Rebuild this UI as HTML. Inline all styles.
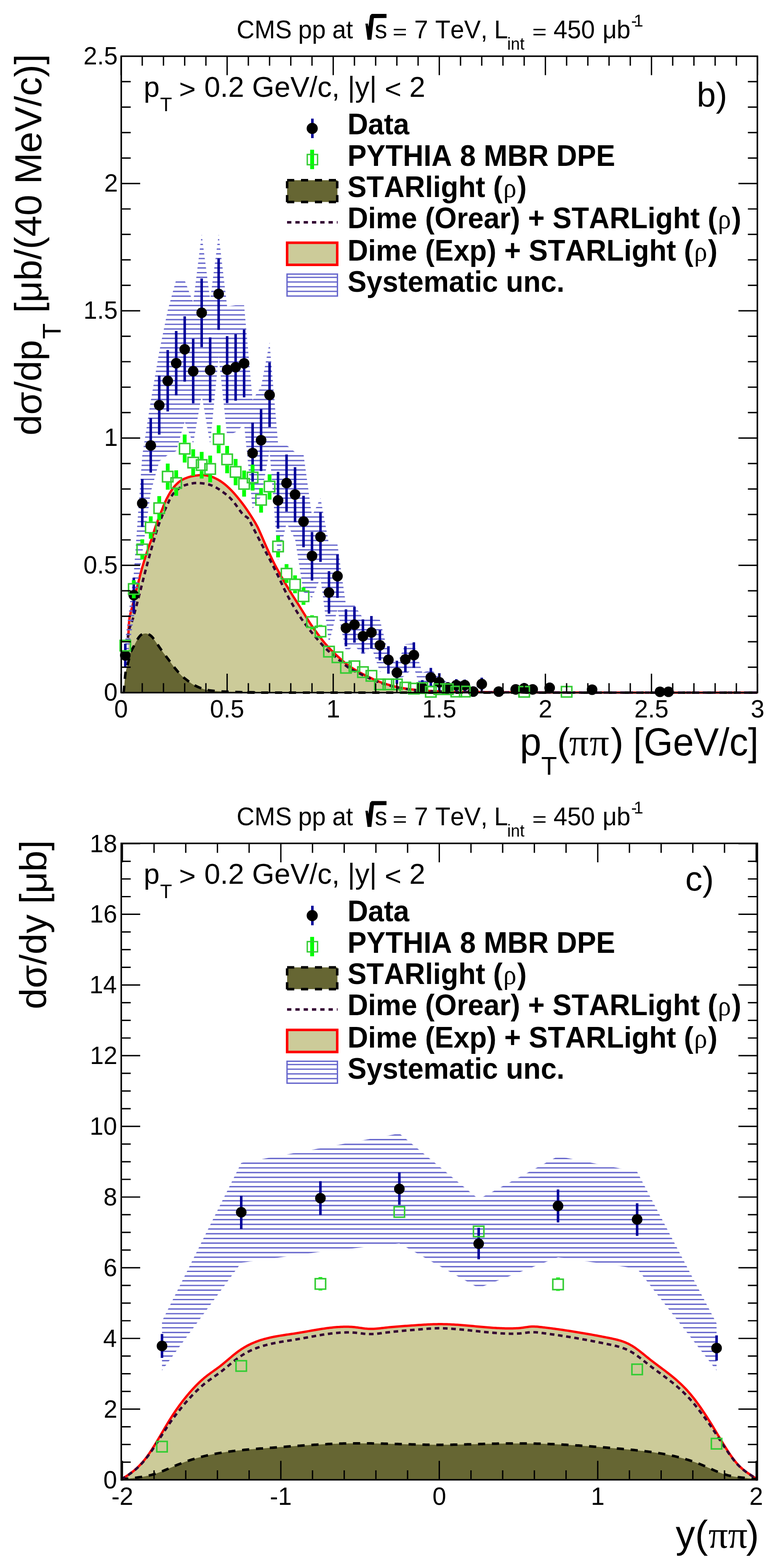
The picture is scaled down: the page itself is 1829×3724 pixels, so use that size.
<!DOCTYPE html>
<html><head><meta charset="utf-8"><title>CMS pp 7 TeV exclusive pi+pi- cross sections</title>
<style>html,body{margin:0;padding:0;background:#fff;}svg{display:block;}
text{font-kerning:none;}</style></head>
<body>
<svg width="1829" height="3724" viewBox="0 0 1829 3724">
<defs>
<clipPath id="c1"><rect x="288" y="133.5" width="1511" height="1514.5"/></clipPath>
<clipPath id="c2"><rect x="288" y="2003" width="1511" height="1514.5"/></clipPath>
</defs>
<rect x="0" y="0" width="1829" height="3724" fill="#fff"/>
<g clip-path="url(#c1)">
<path d="M304.8 1511.7 C305.23 1504.65 305.67 1481.88 307.4 1469.4 C309.13 1456.92 312.73 1447.15 315.2 1436.8 C317.67 1426.45 320 1416.1 322.2 1407.3 C324.4 1398.5 326.47 1391.52 328.4 1384 C330.33 1376.48 331.87 1369.45 333.8 1362.2 C335.73 1354.95 337.93 1347.48 340 1340.5 C342.07 1333.52 344 1327.28 346.2 1320.3 C348.4 1313.32 350.87 1305.32 353.2 1298.6 C355.53 1291.88 358 1286.47 360.2 1280 C362.4 1273.53 364.07 1266.8 366.4 1259.8 C368.73 1252.8 371.6 1245 374.2 1238 C376.8 1231 379.15 1225.05 382 1217.8 C384.85 1210.55 388.2 1201.48 391.3 1194.5 C394.4 1187.52 397.23 1181.85 400.6 1175.9 C403.97 1169.95 407.62 1163.85 411.5 1158.8 C415.38 1153.75 419.5 1149.22 423.9 1145.6 C428.3 1141.98 432.98 1139.43 437.9 1137.1 C442.82 1134.77 447.45 1133.03 453.4 1131.6 C459.35 1130.17 467.5 1128.93 473.6 1128.5 C479.7 1128.07 484.77 1128.25 490 1129 C495.23 1129.75 498.7 1130.27 505 1133 C511.3 1135.73 520.2 1139.97 527.8 1145.4 C535.4 1150.83 542.57 1157.17 550.6 1165.6 C558.63 1174.03 568.43 1186.1 576 1196 C583.57 1205.9 590 1215.67 596 1225 C602 1234.33 605.8 1239.5 612 1252 C618.2 1264.5 626.98 1286.3 633.2 1300 C639.42 1313.7 644.08 1323.77 649.3 1334.2 C654.52 1344.63 659.43 1353.43 664.5 1362.6 C669.57 1371.77 674.63 1380.65 679.7 1389.2 C684.77 1397.75 689.85 1405.83 694.9 1413.9 C699.95 1421.97 704.95 1429.55 710 1437.6 C715.05 1445.65 720.13 1454.15 725.2 1462.2 C730.27 1470.25 735.33 1478.47 740.4 1485.9 C745.47 1493.33 750.53 1500 755.6 1506.8 C760.67 1513.6 765.1 1519.97 770.8 1526.7 C776.5 1533.43 783.48 1540.87 789.8 1547.2 C796.12 1553.53 802.38 1559.1 808.7 1564.7 C815.02 1570.3 820.72 1575.75 827.7 1580.8 C834.68 1585.85 842.57 1590.47 850.6 1595 C858.63 1599.53 867.47 1603.95 875.9 1608 C884.33 1612.05 892.77 1616.05 901.2 1619.3 C909.63 1622.55 918.07 1625.13 926.5 1627.5 C934.93 1629.87 941.68 1631.67 951.8 1633.5 C961.92 1635.33 974.17 1637.17 987.2 1638.5 C1000.23 1639.83 1011.2 1640.7 1030 1641.5 C1048.8 1642.3 1071.67 1642.83 1100 1643.3 C1128.33 1643.77 1150 1644.05 1200 1644.3 C1250 1644.55 1300.17 1644.68 1400 1644.8 C1499.83 1644.92 1732.5 1644.97 1799 1645 L1799 1645 L304.8 1645 Z" fill="#cccb99"/>
<path d="M293.5 1645 C293.62 1644.25 293.53 1647.5 294.2 1640.5 C294.87 1633.5 296.42 1611.97 297.5 1603 C298.58 1594.03 299.35 1592.4 300.7 1586.7 C302.05 1581 304.1 1574.75 305.6 1568.8 C307.1 1562.85 307.93 1556.17 309.7 1551 C311.47 1545.83 314.03 1542.03 316.2 1537.8 C318.37 1533.57 320.8 1529.1 322.7 1525.6 C324.6 1522.1 325.68 1519.63 327.6 1516.8 C329.52 1513.97 332.02 1510.53 334.2 1508.6 C336.38 1506.67 338.53 1505.87 340.7 1505.2 C342.87 1504.53 344.77 1504.2 347.2 1504.6 C349.63 1505 352.85 1506.15 355.3 1507.6 C357.75 1509.05 359.85 1511.07 361.9 1513.3 C363.95 1515.53 365.3 1517.77 367.6 1521 C369.9 1524.23 372.6 1528.25 375.7 1532.7 C378.8 1537.15 381.92 1541.82 386.2 1547.7 C390.48 1553.58 396.35 1561.28 401.4 1568 C406.45 1574.72 411.45 1581.85 416.5 1588 C421.55 1594.15 426.62 1599.98 431.7 1604.9 C436.78 1609.82 441.95 1613.72 447 1617.5 C452.05 1621.28 456.12 1624.48 462 1627.6 C467.88 1630.72 475.97 1634.13 482.3 1636.2 C488.63 1638.27 490.72 1638.9 500 1640 C509.28 1641.1 521.33 1642.08 538 1642.8 C554.67 1643.52 573 1643.93 600 1644.3 C627 1644.67 500.17 1644.88 700 1645 C899.83 1645.12 1615.83 1645 1799 1645 Z" fill="#666633"/>
<path d="M304.8 1511.7 C305.23 1504.65 305.67 1481.88 307.4 1469.4 C309.13 1456.92 312.73 1447.15 315.2 1436.8 C317.67 1426.45 320 1416.1 322.2 1407.3 C324.4 1398.5 326.47 1391.52 328.4 1384 C330.33 1376.48 331.87 1369.45 333.8 1362.2 C335.73 1354.95 337.93 1347.48 340 1340.5 C342.07 1333.52 344 1327.28 346.2 1320.3 C348.4 1313.32 350.87 1305.32 353.2 1298.6 C355.53 1291.88 358 1286.47 360.2 1280 C362.4 1273.53 364.07 1266.8 366.4 1259.8 C368.73 1252.8 371.6 1245 374.2 1238 C376.8 1231 379.15 1225.05 382 1217.8 C384.85 1210.55 388.2 1201.48 391.3 1194.5 C394.4 1187.52 397.23 1181.85 400.6 1175.9 C403.97 1169.95 407.62 1163.85 411.5 1158.8 C415.38 1153.75 419.5 1149.22 423.9 1145.6 C428.3 1141.98 432.98 1139.43 437.9 1137.1 C442.82 1134.77 447.45 1133.03 453.4 1131.6 C459.35 1130.17 467.5 1128.93 473.6 1128.5 C479.7 1128.07 484.77 1128.25 490 1129 C495.23 1129.75 498.7 1130.27 505 1133 C511.3 1135.73 520.2 1139.97 527.8 1145.4 C535.4 1150.83 542.57 1157.17 550.6 1165.6 C558.63 1174.03 568.43 1186.1 576 1196 C583.57 1205.9 590 1215.67 596 1225 C602 1234.33 605.8 1239.5 612 1252 C618.2 1264.5 626.98 1286.3 633.2 1300 C639.42 1313.7 644.08 1323.77 649.3 1334.2 C654.52 1344.63 659.43 1353.43 664.5 1362.6 C669.57 1371.77 674.63 1380.65 679.7 1389.2 C684.77 1397.75 689.85 1405.83 694.9 1413.9 C699.95 1421.97 704.95 1429.55 710 1437.6 C715.05 1445.65 720.13 1454.15 725.2 1462.2 C730.27 1470.25 735.33 1478.47 740.4 1485.9 C745.47 1493.33 750.53 1500 755.6 1506.8 C760.67 1513.6 765.1 1519.97 770.8 1526.7 C776.5 1533.43 783.48 1540.87 789.8 1547.2 C796.12 1553.53 802.38 1559.1 808.7 1564.7 C815.02 1570.3 820.72 1575.75 827.7 1580.8 C834.68 1585.85 842.57 1590.47 850.6 1595 C858.63 1599.53 867.47 1603.95 875.9 1608 C884.33 1612.05 892.77 1616.05 901.2 1619.3 C909.63 1622.55 918.07 1625.13 926.5 1627.5 C934.93 1629.87 941.68 1631.67 951.8 1633.5 C961.92 1635.33 974.17 1637.17 987.2 1638.5 C1000.23 1639.83 1011.2 1640.7 1030 1641.5 C1048.8 1642.3 1071.67 1642.83 1100 1643.3 C1128.33 1643.77 1150 1644.05 1200 1644.3 C1250 1644.55 1300.17 1644.68 1400 1644.8 C1499.83 1644.92 1732.5 1644.97 1799 1645" fill="none" stroke="#ff0000" stroke-width="5.5"/>
<path d="M293.5 1645 C293.62 1644.25 293.53 1647.5 294.2 1640.5 C294.87 1633.5 296.42 1611.97 297.5 1603 C298.58 1594.03 299.35 1592.4 300.7 1586.7 C302.05 1581 304.1 1574.75 305.6 1568.8 C307.1 1562.85 307.93 1556.17 309.7 1551 C311.47 1545.83 314.03 1542.03 316.2 1537.8 C318.37 1533.57 320.8 1529.1 322.7 1525.6 C324.6 1522.1 325.68 1519.63 327.6 1516.8 C329.52 1513.97 332.02 1510.53 334.2 1508.6 C336.38 1506.67 338.53 1505.87 340.7 1505.2 C342.87 1504.53 344.77 1504.2 347.2 1504.6 C349.63 1505 352.85 1506.15 355.3 1507.6 C357.75 1509.05 359.85 1511.07 361.9 1513.3 C363.95 1515.53 365.3 1517.77 367.6 1521 C369.9 1524.23 372.6 1528.25 375.7 1532.7 C378.8 1537.15 381.92 1541.82 386.2 1547.7 C390.48 1553.58 396.35 1561.28 401.4 1568 C406.45 1574.72 411.45 1581.85 416.5 1588 C421.55 1594.15 426.62 1599.98 431.7 1604.9 C436.78 1609.82 441.95 1613.72 447 1617.5 C452.05 1621.28 456.12 1624.48 462 1627.6 C467.88 1630.72 475.97 1634.13 482.3 1636.2 C488.63 1638.27 490.72 1638.9 500 1640 C509.28 1641.1 521.33 1642.08 538 1642.8 C554.67 1643.52 573 1643.93 600 1644.3 C627 1644.67 500.17 1644.88 700 1645 C899.83 1645.12 1615.83 1645 1799 1645" fill="none" stroke="#000" stroke-width="6" stroke-dasharray="17 16"/>
<path d="M303.5 1515 C304.08 1511.5 304.8 1502.12 307 1494 C309.2 1485.88 312.48 1480.75 316.7 1466.3 C320.92 1451.85 327.38 1426.2 332.3 1407.3 C337.22 1388.4 341.03 1372.32 346.2 1352.9 C351.37 1333.48 357.85 1309.43 363.3 1290.8 C368.75 1272.17 373.47 1255.85 378.9 1241.1 C384.33 1226.35 390.73 1213.35 395.9 1202.3 C401.07 1191.25 404.47 1182.23 409.9 1174.8 C415.33 1167.37 422.28 1161.83 428.5 1157.7 C434.72 1153.57 440.2 1151.75 447.2 1150 C454.2 1148.25 461.7 1146.87 470.5 1147.2 C479.3 1147.53 490.87 1148.95 500 1152 C509.13 1155.05 516.87 1159.67 525.3 1165.5 C533.73 1171.33 542.15 1177.83 550.6 1187 C559.05 1196.17 569.48 1213.08 576 1220.5 C582.52 1227.92 585.5 1226 589.7 1231.5 C593.9 1237 594.73 1241.13 601.2 1253.5 C607.67 1265.87 620.95 1291.32 628.5 1305.7 C636.05 1320.08 640.82 1328.73 646.5 1339.8 C652.18 1350.87 657.07 1360.7 662.6 1372.1 C668.13 1383.5 673.68 1396.5 679.7 1408.2 C685.72 1419.9 692.07 1431.23 698.7 1442.3 C705.33 1453.37 711.92 1463.85 719.5 1474.6 C727.08 1485.35 735.02 1495.73 744.2 1506.8 C753.38 1517.87 765.12 1531.5 774.6 1541 C784.08 1550.5 792.25 1556.38 801.1 1563.8 C809.95 1571.22 819.45 1579.8 827.7 1585.5 C835.95 1591.2 842.57 1593.92 850.6 1598 C858.63 1602.08 867.47 1606.2 875.9 1610 C884.33 1613.8 892.77 1617.72 901.2 1620.8 C909.63 1623.88 918.07 1626.27 926.5 1628.5 C934.93 1630.73 941.68 1632.45 951.8 1634.2 C961.92 1635.95 974.17 1637.73 987.2 1639 C1000.23 1640.27 1011.2 1641.05 1030 1641.8 C1048.8 1642.55 1071.67 1643.07 1100 1643.5 C1128.33 1643.93 1150 1644.18 1200 1644.4 C1250 1644.62 1300.17 1644.7 1400 1644.8 C1499.83 1644.9 1732.5 1644.97 1799 1645" fill="none" stroke="#330033" stroke-width="5.8" stroke-dasharray="11 8.6"/>
<clipPath id="b1"><path d="M297.6 1520 L317.76 1362 L337.92 1082 L358.08 952.6 L378.24 835.3 L398.4 736.9 L418.56 664 L438.72 666 L458.88 718 L479.04 556.6 L499.2 712 L519.36 556.6 L539.52 728 L559.68 725 L579.84 725 L600 950 L620.16 918 L640.32 812.9 L660.48 1053 L680.64 1057 L700.8 1074 L720.96 1079 L741.12 1226 L761.28 1182.7 L781.44 1292 L801.6 1293 L821.76 1437 L841.92 1437 L862.08 1468 L882.24 1470 L902.4 1472 L922.56 1552 L942.72 1578 L962.88 1530 L983.04 1528 L1003.2 1598 L1023.36 1590 L1043.52 1607 L1063.68 1622 L1083.84 1618 L1104 1618 L1124.16 1640 L1144.32 1615 L1144.32 1634.88 L1124.16 1645.12 L1104 1637.06 L1083.84 1637.06 L1063.68 1644.55 L1043.52 1634.26 L1023.36 1628.95 L1003.2 1650 L983.04 1584.99 L962.88 1603.8 L942.72 1618.18 L922.56 1583.16 L902.4 1596.03 L882.24 1536.01 L862.08 1556.15 L841.92 1532.74 L821.76 1548.72 L801.6 1447.37 L781.44 1528.37 L761.28 1371.91 L741.12 1419.52 L720.96 1405.97 L700.8 1280.03 L680.64 1242.32 L660.48 1330.57 L640.32 1069.36 L620.16 1179.38 L600 1208.3 L579.84 1007.9 L559.68 1026.35 L539.52 1035.5 L519.36 846.68 L499.2 1054.35 L479.04 938.31 L458.88 1053.59 L438.72 1001.38 L418.56 1071.13 L398.4 1080.69 L378.24 1095.65 L358.08 1169.08 L337.92 1314.67 L317.76 1467.78 L297.6 1594.83 Z"/></clipPath>
<path clip-path="url(#b1)" d="M292.6 535.88 H1149.32 M292.6 547.04 H1149.32 M292.6 558.2 H1149.32 M292.6 569.36 H1149.32 M292.6 580.52 H1149.32 M292.6 591.68 H1149.32 M292.6 602.84 H1149.32 M292.6 614 H1149.32 M292.6 625.16 H1149.32 M292.6 636.32 H1149.32 M292.6 647.48 H1149.32 M292.6 658.64 H1149.32 M292.6 669.8 H1149.32 M292.6 680.96 H1149.32 M292.6 692.12 H1149.32 M292.6 703.28 H1149.32 M292.6 714.44 H1149.32 M292.6 725.6 H1149.32 M292.6 736.76 H1149.32 M292.6 747.92 H1149.32 M292.6 759.08 H1149.32 M292.6 770.24 H1149.32 M292.6 781.4 H1149.32 M292.6 792.56 H1149.32 M292.6 803.72 H1149.32 M292.6 814.88 H1149.32 M292.6 826.04 H1149.32 M292.6 837.2 H1149.32 M292.6 848.36 H1149.32 M292.6 859.52 H1149.32 M292.6 870.68 H1149.32 M292.6 881.84 H1149.32 M292.6 893 H1149.32 M292.6 904.16 H1149.32 M292.6 915.32 H1149.32 M292.6 926.48 H1149.32 M292.6 937.64 H1149.32 M292.6 948.8 H1149.32 M292.6 959.96 H1149.32 M292.6 971.12 H1149.32 M292.6 982.28 H1149.32 M292.6 993.44 H1149.32 M292.6 1004.6 H1149.32 M292.6 1015.76 H1149.32 M292.6 1026.92 H1149.32 M292.6 1038.08 H1149.32 M292.6 1049.24 H1149.32 M292.6 1060.4 H1149.32 M292.6 1071.56 H1149.32 M292.6 1082.72 H1149.32 M292.6 1093.88 H1149.32 M292.6 1105.04 H1149.32 M292.6 1116.2 H1149.32 M292.6 1127.36 H1149.32 M292.6 1138.52 H1149.32 M292.6 1149.68 H1149.32 M292.6 1160.84 H1149.32 M292.6 1172 H1149.32 M292.6 1183.16 H1149.32 M292.6 1194.32 H1149.32 M292.6 1205.48 H1149.32 M292.6 1216.64 H1149.32 M292.6 1227.8 H1149.32 M292.6 1238.96 H1149.32 M292.6 1250.12 H1149.32 M292.6 1261.28 H1149.32 M292.6 1272.44 H1149.32 M292.6 1283.6 H1149.32 M292.6 1294.76 H1149.32 M292.6 1305.92 H1149.32 M292.6 1317.08 H1149.32 M292.6 1328.24 H1149.32 M292.6 1339.4 H1149.32 M292.6 1350.56 H1149.32 M292.6 1361.72 H1149.32 M292.6 1372.88 H1149.32 M292.6 1384.04 H1149.32 M292.6 1395.2 H1149.32 M292.6 1406.36 H1149.32 M292.6 1417.52 H1149.32 M292.6 1428.68 H1149.32 M292.6 1439.84 H1149.32 M292.6 1451 H1149.32 M292.6 1462.16 H1149.32 M292.6 1473.32 H1149.32 M292.6 1484.48 H1149.32 M292.6 1495.64 H1149.32 M292.6 1506.8 H1149.32 M292.6 1517.96 H1149.32 M292.6 1529.12 H1149.32 M292.6 1540.28 H1149.32 M292.6 1551.44 H1149.32 M292.6 1562.6 H1149.32 M292.6 1573.76 H1149.32 M292.6 1584.92 H1149.32 M292.6 1596.08 H1149.32 M292.6 1607.24 H1149.32 M292.6 1618.4 H1149.32 M292.6 1629.56 H1149.32 M292.6 1640.72 H1149.32 M292.6 1651.88 H1149.32 M292.6 1663.04 H1149.32" stroke="#6666cc" stroke-width="3.2" fill="none"/>
</g>
<path d="M297.6 1528.7 V1583 M317.76 1371.9 V1456.6 M337.92 1137.8 V1251.6 M358.08 993 V1122.6 M378.24 892.2 V1032.2 M398.4 831.3 V977.3 M418.56 786 V939.1 M438.72 751.2 V906.5 M458.88 804.4 V957.8 M479.04 661.4 V824.5 M499.2 801.3 V955.8 M519.36 613.4 V783.4 M539.52 798.3 V957.2 M559.68 793.6 V951.7 M579.84 782.5 V943.8 M600 1003.7 V1144.1 M620.16 971.6 V1118.8 M640.32 861 V1014.3 M660.48 1120.6 V1255.4 M680.64 1079.6 V1215 M700.8 1109.5 V1240.2 M720.96 1177.5 V1299.7 M741.12 1263.4 V1378.8 M761.28 1216.4 V1334.5 M781.44 1356.6 V1457.5 M801.6 1316.7 V1420 M821.76 1447.3 V1535 M841.92 1441.2 V1526.2 M862.08 1471 V1550.3 M882.24 1463 V1541 M902.4 1496.4 V1568.5 M922.56 1534.8 V1600 M942.72 1569.2 V1624 M962.88 1534.8 V1596.3 M983.04 1525.5 V1586.2 M1003.2 1615.3 V1645 M1023.36 1586.2 V1630.4 M1043.52 1598.8 V1640 M1063.68 1620 V1645 M1083.84 1613 V1641 M1104 1614 V1641 M1124.16 1630 V1645 M1144.32 1609.6 V1640 M1184.64 1632 V1645 M1224.96 1627 V1645 M1245.12 1622 V1645 M1265.28 1627 V1645 M1305.6 1621 V1645 M1406.4 1628 V1645 M1567.68 1635 V1645 M1587.84 1635 V1645" stroke="#000099" stroke-width="6" fill="none"/>
<circle cx="297.6" cy="1556.5" r="12.6" fill="#000"/>
<circle cx="317.76" cy="1413.6" r="12.6" fill="#000"/>
<circle cx="337.92" cy="1195.5" r="12.6" fill="#000"/>
<circle cx="358.08" cy="1058.2" r="12.6" fill="#000"/>
<circle cx="378.24" cy="962.3" r="12.6" fill="#000"/>
<circle cx="398.4" cy="904.6" r="12.6" fill="#000"/>
<circle cx="418.56" cy="862.6" r="12.6" fill="#000"/>
<circle cx="438.72" cy="829.6" r="12.6" fill="#000"/>
<circle cx="458.88" cy="881.7" r="12.6" fill="#000"/>
<circle cx="479.04" cy="742.8" r="12.6" fill="#000"/>
<circle cx="499.2" cy="879" r="12.6" fill="#000"/>
<circle cx="519.36" cy="698.1" r="12.6" fill="#000"/>
<circle cx="539.52" cy="878" r="12.6" fill="#000"/>
<circle cx="559.68" cy="872" r="12.6" fill="#000"/>
<circle cx="579.84" cy="863" r="12.6" fill="#000"/>
<circle cx="600" cy="1076" r="12.6" fill="#000"/>
<circle cx="620.16" cy="1045.5" r="12.6" fill="#000"/>
<circle cx="640.32" cy="938" r="12.6" fill="#000"/>
<circle cx="660.48" cy="1188.4" r="12.6" fill="#000"/>
<circle cx="680.64" cy="1147.4" r="12.6" fill="#000"/>
<circle cx="700.8" cy="1174.5" r="12.6" fill="#000"/>
<circle cx="720.96" cy="1238.5" r="12.6" fill="#000"/>
<circle cx="741.12" cy="1320.4" r="12.6" fill="#000"/>
<circle cx="761.28" cy="1275" r="12.6" fill="#000"/>
<circle cx="781.44" cy="1407.3" r="12.6" fill="#000"/>
<circle cx="801.6" cy="1368.3" r="12.6" fill="#000"/>
<circle cx="821.76" cy="1491.5" r="12.6" fill="#000"/>
<circle cx="841.92" cy="1483.7" r="12.6" fill="#000"/>
<circle cx="862.08" cy="1511" r="12.6" fill="#000"/>
<circle cx="882.24" cy="1502.2" r="12.6" fill="#000"/>
<circle cx="902.4" cy="1532.5" r="12.6" fill="#000"/>
<circle cx="922.56" cy="1567.2" r="12.6" fill="#000"/>
<circle cx="942.72" cy="1597.6" r="12.6" fill="#000"/>
<circle cx="962.88" cy="1566" r="12.6" fill="#000"/>
<circle cx="983.04" cy="1555.8" r="12.6" fill="#000"/>
<circle cx="1003.2" cy="1633" r="12.6" fill="#000"/>
<circle cx="1023.36" cy="1609" r="12.6" fill="#000"/>
<circle cx="1043.52" cy="1620.3" r="12.6" fill="#000"/>
<circle cx="1063.68" cy="1633" r="12.6" fill="#000"/>
<circle cx="1083.84" cy="1627.3" r="12.6" fill="#000"/>
<circle cx="1104" cy="1627.3" r="12.6" fill="#000"/>
<circle cx="1124.16" cy="1642.5" r="12.6" fill="#000"/>
<circle cx="1144.32" cy="1624.7" r="12.6" fill="#000"/>
<circle cx="1184.64" cy="1642.5" r="12.6" fill="#000"/>
<circle cx="1224.96" cy="1637.4" r="12.6" fill="#000"/>
<circle cx="1245.12" cy="1634.9" r="12.6" fill="#000"/>
<circle cx="1265.28" cy="1637.4" r="12.6" fill="#000"/>
<circle cx="1305.6" cy="1633.6" r="12.6" fill="#000"/>
<circle cx="1406.4" cy="1638" r="12.6" fill="#000"/>
<circle cx="1567.68" cy="1643" r="12.6" fill="#000"/>
<circle cx="1587.84" cy="1643" r="12.6" fill="#000"/>
<path d="M317.76 1378 V1384.7 M317.76 1413.1 V1421 M337.92 1280.7 V1290.6 M337.92 1319 V1328.8 M358.08 1226.3 V1238.7 M358.08 1267.1 V1279.5 M378.24 1178.3 V1192.7 M378.24 1221.1 V1235.2 M398.4 1101 V1117.8 M398.4 1146.2 V1163 M418.56 1117 V1133 M418.56 1161.4 V1177.5 M438.72 1032 V1051.5 M438.72 1079.9 V1098.6 M458.88 1067 V1084.4 M458.88 1112.8 V1130 M479.04 1073.3 V1090.2 M479.04 1118.6 V1136.5 M499.2 1082 V1099.6 M499.2 1128 V1145.4 M519.36 1010 V1028.8 M519.36 1057.2 V1076.6 M539.52 1058.9 V1076.8 M539.52 1105.2 V1123.9 M559.68 1090 V1106.6 M559.68 1135 V1152.5 M579.84 1117.6 V1135 M579.84 1163.4 V1179.5 M600 1103.6 V1119.8 M600 1148.2 V1165.1 M620.16 1159.3 V1172.9 M620.16 1201.3 V1217.5 M640.32 1126.4 V1141.3 M640.32 1169.7 V1186.6 M660.48 1271.9 V1283.7 M660.48 1312.1 V1323.8 M680.64 1339.8 V1348.4 M680.64 1376.8 V1384.4 M700.8 1366.4 V1374 M700.8 1402.4 V1409.1 M720.96 1394.9 V1401.9 M720.96 1430.3 V1436.6 M741.12 1461.3 V1463.2 M741.12 1491.6 V1494.5 M761.28 1484 V1485.6 M761.28 1514 V1515.4" stroke="#00ff00" stroke-width="9" fill="none"/>
<rect x="285.2" y="1520.9" width="24.8" height="24.8" fill="none" stroke="#33cc33" stroke-width="3.6"/>
<rect x="305.36" y="1386.5" width="24.8" height="24.8" fill="none" stroke="#33cc33" stroke-width="3.6"/>
<rect x="325.52" y="1292.4" width="24.8" height="24.8" fill="none" stroke="#33cc33" stroke-width="3.6"/>
<rect x="345.68" y="1240.5" width="24.8" height="24.8" fill="none" stroke="#33cc33" stroke-width="3.6"/>
<rect x="365.84" y="1194.5" width="24.8" height="24.8" fill="none" stroke="#33cc33" stroke-width="3.6"/>
<rect x="386" y="1119.6" width="24.8" height="24.8" fill="none" stroke="#33cc33" stroke-width="3.6"/>
<rect x="406.16" y="1134.8" width="24.8" height="24.8" fill="none" stroke="#33cc33" stroke-width="3.6"/>
<rect x="426.32" y="1053.3" width="24.8" height="24.8" fill="none" stroke="#33cc33" stroke-width="3.6"/>
<rect x="446.48" y="1086.2" width="24.8" height="24.8" fill="none" stroke="#33cc33" stroke-width="3.6"/>
<rect x="466.64" y="1092" width="24.8" height="24.8" fill="none" stroke="#33cc33" stroke-width="3.6"/>
<rect x="486.8" y="1101.4" width="24.8" height="24.8" fill="none" stroke="#33cc33" stroke-width="3.6"/>
<rect x="506.96" y="1030.6" width="24.8" height="24.8" fill="none" stroke="#33cc33" stroke-width="3.6"/>
<rect x="527.12" y="1078.6" width="24.8" height="24.8" fill="none" stroke="#33cc33" stroke-width="3.6"/>
<rect x="547.28" y="1108.4" width="24.8" height="24.8" fill="none" stroke="#33cc33" stroke-width="3.6"/>
<rect x="567.44" y="1136.8" width="24.8" height="24.8" fill="none" stroke="#33cc33" stroke-width="3.6"/>
<rect x="587.6" y="1121.6" width="24.8" height="24.8" fill="none" stroke="#33cc33" stroke-width="3.6"/>
<rect x="607.76" y="1174.7" width="24.8" height="24.8" fill="none" stroke="#33cc33" stroke-width="3.6"/>
<rect x="627.92" y="1143.1" width="24.8" height="24.8" fill="none" stroke="#33cc33" stroke-width="3.6"/>
<rect x="648.08" y="1285.5" width="24.8" height="24.8" fill="none" stroke="#33cc33" stroke-width="3.6"/>
<rect x="668.24" y="1350.2" width="24.8" height="24.8" fill="none" stroke="#33cc33" stroke-width="3.6"/>
<rect x="688.4" y="1375.8" width="24.8" height="24.8" fill="none" stroke="#33cc33" stroke-width="3.6"/>
<rect x="708.56" y="1403.7" width="24.8" height="24.8" fill="none" stroke="#33cc33" stroke-width="3.6"/>
<rect x="728.72" y="1465" width="24.8" height="24.8" fill="none" stroke="#33cc33" stroke-width="3.6"/>
<rect x="748.88" y="1487.4" width="24.8" height="24.8" fill="none" stroke="#33cc33" stroke-width="3.6"/>
<rect x="769.04" y="1535.2" width="24.8" height="24.8" fill="none" stroke="#33cc33" stroke-width="3.6"/>
<rect x="789.2" y="1548.6" width="24.8" height="24.8" fill="none" stroke="#33cc33" stroke-width="3.6"/>
<rect x="809.36" y="1573.6" width="24.8" height="24.8" fill="none" stroke="#33cc33" stroke-width="3.6"/>
<rect x="829.52" y="1570" width="24.8" height="24.8" fill="none" stroke="#33cc33" stroke-width="3.6"/>
<rect x="849.68" y="1583.9" width="24.8" height="24.8" fill="none" stroke="#33cc33" stroke-width="3.6"/>
<rect x="869.84" y="1592.7" width="24.8" height="24.8" fill="none" stroke="#33cc33" stroke-width="3.6"/>
<rect x="890" y="1613" width="24.8" height="24.8" fill="none" stroke="#33cc33" stroke-width="3.6"/>
<rect x="910.16" y="1613" width="24.8" height="24.8" fill="none" stroke="#33cc33" stroke-width="3.6"/>
<rect x="930.32" y="1613" width="24.8" height="24.8" fill="none" stroke="#33cc33" stroke-width="3.6"/>
<rect x="950.48" y="1620.6" width="24.8" height="24.8" fill="none" stroke="#33cc33" stroke-width="3.6"/>
<rect x="970.64" y="1623.1" width="24.8" height="24.8" fill="none" stroke="#33cc33" stroke-width="3.6"/>
<rect x="990.8" y="1621.8" width="24.8" height="24.8" fill="none" stroke="#33cc33" stroke-width="3.6"/>
<rect x="1010.96" y="1630.6" width="24.8" height="24.8" fill="none" stroke="#33cc33" stroke-width="3.6"/>
<rect x="1031.12" y="1624.4" width="24.8" height="24.8" fill="none" stroke="#33cc33" stroke-width="3.6"/>
<rect x="1051.28" y="1624.4" width="24.8" height="24.8" fill="none" stroke="#33cc33" stroke-width="3.6"/>
<rect x="1071.44" y="1630.1" width="24.8" height="24.8" fill="none" stroke="#33cc33" stroke-width="3.6"/>
<rect x="1091.6" y="1630.1" width="24.8" height="24.8" fill="none" stroke="#33cc33" stroke-width="3.6"/>
<rect x="1232.72" y="1630.6" width="24.8" height="24.8" fill="none" stroke="#33cc33" stroke-width="3.6"/>
<rect x="1333.52" y="1630.6" width="24.8" height="24.8" fill="none" stroke="#33cc33" stroke-width="3.6"/>
<path d="M287.5 1645 V1600 M287.5 133.5 V178.5 M539.5 1645 V1600 M539.5 133.5 V178.5 M791.5 1645 V1600 M791.5 133.5 V178.5 M1043.5 1645 V1600 M1043.5 133.5 V178.5 M1295.5 1645 V1600 M1295.5 133.5 V178.5 M1547.5 1645 V1600 M1547.5 133.5 V178.5 M1799.5 1645 V1600 M1799.5 133.5 V178.5 M337.9 1645 V1622.5 M337.9 133.5 V156 M388.3 1645 V1622.5 M388.3 133.5 V156 M438.7 1645 V1622.5 M438.7 133.5 V156 M489.1 1645 V1622.5 M489.1 133.5 V156 M589.9 1645 V1622.5 M589.9 133.5 V156 M640.3 1645 V1622.5 M640.3 133.5 V156 M690.7 1645 V1622.5 M690.7 133.5 V156 M741.1 1645 V1622.5 M741.1 133.5 V156 M841.9 1645 V1622.5 M841.9 133.5 V156 M892.3 1645 V1622.5 M892.3 133.5 V156 M942.7 1645 V1622.5 M942.7 133.5 V156 M993.1 1645 V1622.5 M993.1 133.5 V156 M1093.9 1645 V1622.5 M1093.9 133.5 V156 M1144.3 1645 V1622.5 M1144.3 133.5 V156 M1194.7 1645 V1622.5 M1194.7 133.5 V156 M1245.1 1645 V1622.5 M1245.1 133.5 V156 M1345.9 1645 V1622.5 M1345.9 133.5 V156 M1396.3 1645 V1622.5 M1396.3 133.5 V156 M1446.7 1645 V1622.5 M1446.7 133.5 V156 M1497.1 1645 V1622.5 M1497.1 133.5 V156 M1597.9 1645 V1622.5 M1597.9 133.5 V156 M1648.3 1645 V1622.5 M1648.3 133.5 V156 M1698.7 1645 V1622.5 M1698.7 133.5 V156 M1749.1 1645 V1622.5 M1749.1 133.5 V156 M288 1645 H333 M1799 1645 H1754 M288 1342.7 H333 M1799 1342.7 H1754 M288 1040.4 H333 M1799 1040.4 H1754 M288 738.1 H333 M1799 738.1 H1754 M288 435.8 H333 M1799 435.8 H1754 M288 133.5 H333 M1799 133.5 H1754 M288 1584.54 H310.5 M1799 1584.54 H1776.5 M288 1524.08 H310.5 M1799 1524.08 H1776.5 M288 1463.62 H310.5 M1799 1463.62 H1776.5 M288 1403.16 H310.5 M1799 1403.16 H1776.5 M288 1282.24 H310.5 M1799 1282.24 H1776.5 M288 1221.78 H310.5 M1799 1221.78 H1776.5 M288 1161.32 H310.5 M1799 1161.32 H1776.5 M288 1100.86 H310.5 M1799 1100.86 H1776.5 M288 979.94 H310.5 M1799 979.94 H1776.5 M288 919.48 H310.5 M1799 919.48 H1776.5 M288 859.02 H310.5 M1799 859.02 H1776.5 M288 798.56 H310.5 M1799 798.56 H1776.5 M288 677.64 H310.5 M1799 677.64 H1776.5 M288 617.18 H310.5 M1799 617.18 H1776.5 M288 556.72 H310.5 M1799 556.72 H1776.5 M288 496.26 H310.5 M1799 496.26 H1776.5 M288 375.34 H310.5 M1799 375.34 H1776.5 M288 314.88 H310.5 M1799 314.88 H1776.5 M288 254.42 H310.5 M1799 254.42 H1776.5 M288 193.96 H310.5 M1799 193.96 H1776.5" stroke="#000" stroke-width="3.2" fill="none"/>
<rect x="288" y="133.5" width="1511" height="1511.5" stroke="#000" stroke-width="3.6" fill="none"/>
<text x="246.75" y="1664" style="font-family:'Liberation Sans', Arial, Helvetica, sans-serif;font-size:58.5px;font-weight:400" fill="#000">0</text>
<text x="198.13" y="1361.7" style="font-family:'Liberation Sans', Arial, Helvetica, sans-serif;font-size:58.5px;font-weight:400" fill="#000">0.5</text>
<text x="247.32" y="1059.4" style="font-family:'Liberation Sans', Arial, Helvetica, sans-serif;font-size:58.5px;font-weight:400" fill="#000">1</text>
<text x="198.13" y="757.1" style="font-family:'Liberation Sans', Arial, Helvetica, sans-serif;font-size:58.5px;font-weight:400" fill="#000">1.5</text>
<text x="247.41" y="454.8" style="font-family:'Liberation Sans', Arial, Helvetica, sans-serif;font-size:58.5px;font-weight:400" fill="#000">2</text>
<text x="198.13" y="152.5" style="font-family:'Liberation Sans', Arial, Helvetica, sans-serif;font-size:58.5px;font-weight:400" fill="#000">2.5</text>
<text x="271.23" y="1704" style="font-family:'Liberation Sans', Arial, Helvetica, sans-serif;font-size:58.5px;font-weight:400" fill="#000">0</text>
<text x="498.84" y="1704" style="font-family:'Liberation Sans', Arial, Helvetica, sans-serif;font-size:58.5px;font-weight:400" fill="#000">0.5</text>
<text x="775.23" y="1704" style="font-family:'Liberation Sans', Arial, Helvetica, sans-serif;font-size:58.5px;font-weight:400" fill="#000">1</text>
<text x="1002.84" y="1704" style="font-family:'Liberation Sans', Arial, Helvetica, sans-serif;font-size:58.5px;font-weight:400" fill="#000">1.5</text>
<text x="1279.23" y="1704" style="font-family:'Liberation Sans', Arial, Helvetica, sans-serif;font-size:58.5px;font-weight:400" fill="#000">2</text>
<text x="1506.84" y="1704" style="font-family:'Liberation Sans', Arial, Helvetica, sans-serif;font-size:58.5px;font-weight:400" fill="#000">2.5</text>
<text x="1783.23" y="1704" style="font-family:'Liberation Sans', Arial, Helvetica, sans-serif;font-size:58.5px;font-weight:400" fill="#000">3</text>
<text transform="translate(561.9 90.7) scale(1 1.03)" style="font-family:'Liberation Sans', Arial, Helvetica, sans-serif;font-size:59px;font-weight:400" fill="#000">CMS</text>
<text transform="translate(708.2 90.7) scale(1 1.03)" style="font-family:'Liberation Sans', Arial, Helvetica, sans-serif;font-size:59px;font-weight:400" fill="#000">pp</text>
<text transform="translate(789.13 90.7) scale(1 1.03)" style="font-family:'Liberation Sans', Arial, Helvetica, sans-serif;font-size:59px;font-weight:400" fill="#000">at</text>
<path d="M867.9 56.1 L873.8 56.1 L875 63.7 L879 36.9 L882.9 32.9 L918.1 32.9 L918.1 42.8 L888.1 43 L882.1 94.6 L873 94.6 Z" fill="#000"/>
<text transform="translate(890.36 90.7) scale(1 1.03)" style="font-family:'Liberation Sans', Arial, Helvetica, sans-serif;font-size:59px;font-weight:400" fill="#000">s</text>
<text transform="translate(932.52 92.13) scale(1 0.83)" style="font-family:'Liberation Sans', Arial, Helvetica, sans-serif;font-size:59px;font-weight:400" fill="#000">=</text>
<text transform="translate(984.08 90.7) scale(1 1.03)" style="font-family:'Liberation Sans', Arial, Helvetica, sans-serif;font-size:59px;font-weight:400" fill="#000">7</text>
<text transform="translate(1033.67 90.7) scale(1 1.03)" style="font-family:'Liberation Sans', Arial, Helvetica, sans-serif;font-size:59px;font-weight:400" fill="#000">TeV,</text>
<text transform="translate(1173.66 90.7) scale(1 1.03)" style="font-family:'Liberation Sans', Arial, Helvetica, sans-serif;font-size:59px;font-weight:400" fill="#000">L</text>
<text transform="translate(1204.69 117.6) scale(1 1.02)" style="font-family:'Liberation Sans', Arial, Helvetica, sans-serif;font-size:39px;font-weight:400" fill="#000">int</text>
<text transform="translate(1264.22 92.13) scale(1 0.83)" style="font-family:'Liberation Sans', Arial, Helvetica, sans-serif;font-size:59px;font-weight:400" fill="#000">=</text>
<text transform="translate(1314.65 90.7) scale(1 1.03)" style="font-family:'Liberation Sans', Arial, Helvetica, sans-serif;font-size:59px;font-weight:400" fill="#000">450</text>
<text transform="translate(1431.22 90.7) scale(1 1.03)" style="font-family:'Liberation Sans', Arial, Helvetica, sans-serif;font-size:59px;font-weight:400" fill="#000">μ</text>
<text transform="translate(1464.66 90.7) scale(1 1.03)" style="font-family:'Liberation Sans', Arial, Helvetica, sans-serif;font-size:59px;font-weight:400" fill="#000">b</text>
<text x="1499.2" y="62.7" style="font-family:'Liberation Sans', Arial, Helvetica, sans-serif;font-size:40.4px;font-weight:400" fill="#000">-</text>
<text x="1505.6" y="62.7" style="font-family:'Liberation Sans', Arial, Helvetica, sans-serif;font-size:40.4px;font-weight:400" fill="#000">1</text>
<text x="341.21" y="229.8" style="font-family:'Liberation Sans', Arial, Helvetica, sans-serif;font-size:68.1px;font-weight:400" fill="#000">p</text>
<text x="380.16" y="263.7" style="font-family:'Liberation Sans', Arial, Helvetica, sans-serif;font-size:46.5px;font-weight:400" fill="#000">T</text>
<text transform="translate(425.24 233.81) scale(1 0.96)" style="font-family:'Liberation Sans', Arial, Helvetica, sans-serif;font-size:68.1px;font-weight:400" fill="#000">&gt;</text>
<text x="485.24" y="229.8" style="font-family:'Liberation Sans', Arial, Helvetica, sans-serif;font-size:68.1px;font-weight:400" fill="#000">0.2 GeV/c, |y|</text>
<text transform="translate(913.64 233.81) scale(1 0.96)" style="font-family:'Liberation Sans', Arial, Helvetica, sans-serif;font-size:68.1px;font-weight:400" fill="#000">&lt;</text>
<text x="972.25" y="229.8" style="font-family:'Liberation Sans', Arial, Helvetica, sans-serif;font-size:68.1px;font-weight:400" fill="#000">2</text>
<text x="1655.05" y="252.6" style="font-family:'Liberation Sans', Arial, Helvetica, sans-serif;font-size:81.5px;font-weight:400" fill="#000">b)</text>
<text transform="translate(825.4 318.9) scale(1 1.05)" style="font-family:'Liberation Sans', Arial, Helvetica, sans-serif;font-size:67.7px;font-weight:700" fill="#000">Data</text>
<text transform="translate(825.4 393.7) scale(1 1.05)" style="font-family:'Liberation Sans', Arial, Helvetica, sans-serif;font-size:67.7px;font-weight:700" fill="#000">PYTHIA 8 MBR DPE</text>
<text transform="translate(825.4 467.9) scale(1 1.05)" style="font-family:'Liberation Sans', Arial, Helvetica, sans-serif;font-size:67.7px;font-weight:700" fill="#000">STARlight (</text>
<text transform="translate(1195.42 467.9) scale(1 1.05)" style="font-family:'Liberation Serif', 'Times New Roman', serif;font-size:62.28px;font-weight:400" fill="#000">ρ</text>
<text transform="translate(1228.5 467.9) scale(1 1.05)" style="font-family:'Liberation Sans', Arial, Helvetica, sans-serif;font-size:67.7px;font-weight:700" fill="#000">)</text>
<text transform="translate(825.4 541.8) scale(1 1.05)" style="font-family:'Liberation Sans', Arial, Helvetica, sans-serif;font-size:67.7px;font-weight:700" fill="#000">Dime (Orear) + STARLight (</text>
<text transform="translate(1705.21 541.8) scale(1 1.05)" style="font-family:'Liberation Serif', 'Times New Roman', serif;font-size:62.28px;font-weight:400" fill="#000">ρ</text>
<text transform="translate(1738.3 541.8) scale(1 1.05)" style="font-family:'Liberation Sans', Arial, Helvetica, sans-serif;font-size:67.7px;font-weight:700" fill="#000">)</text>
<text transform="translate(825.4 618.7) scale(1 1.05)" style="font-family:'Liberation Sans', Arial, Helvetica, sans-serif;font-size:67.7px;font-weight:700" fill="#000">Dime (Exp) + STARLight (</text>
<text transform="translate(1648.72 618.7) scale(1 1.05)" style="font-family:'Liberation Serif', 'Times New Roman', serif;font-size:62.28px;font-weight:400" fill="#000">ρ</text>
<text transform="translate(1681.8 618.7) scale(1 1.05)" style="font-family:'Liberation Sans', Arial, Helvetica, sans-serif;font-size:67.7px;font-weight:700" fill="#000">)</text>
<text transform="translate(825.4 692.5) scale(1 1.05)" style="font-family:'Liberation Sans', Arial, Helvetica, sans-serif;font-size:67.7px;font-weight:700" fill="#000">Systematic unc.</text>
<path d="M742 281.7 V328" stroke="#000099" stroke-width="6"/>
<circle cx="741.6" cy="305" r="13.2" fill="#000"/>
<path d="M741.4 355.6 V401.7" stroke="#00ff00" stroke-width="9.3"/>
<rect x="729.9" y="366.8" width="24.4" height="24.4" fill="none" stroke="#33cc33" stroke-width="3.2"/>
<rect x="682" y="428" width="119.5" height="51.7" fill="#666633"/>
<path d="M682 428 H801.5" stroke="#000" stroke-width="6" stroke-dasharray="17 16" fill="none"/>
<path d="M682 479.7 H801.5" stroke="#000" stroke-width="6" stroke-dasharray="17 16" fill="none"/>
<path d="M682 430.2 V481" stroke="#000" stroke-width="6" stroke-dasharray="17 16" fill="none"/>
<path d="M801 430.2 V481" stroke="#000" stroke-width="6" stroke-dasharray="17 16" fill="none"/>
<path d="M681.9 528 H801.9" stroke="#330033" stroke-width="6" stroke-dasharray="10.2 9.5" fill="none"/>
<rect x="682" y="576.5" width="119" height="52.5" fill="#cccb99" stroke="#ff0000" stroke-width="6"/>
<path d="M681.8 658.64 H801.5 M681.8 669.8 H801.5 M681.8 680.96 H801.5 M681.8 692.12 H801.5" stroke="#6666cc" stroke-width="3" fill="none"/>
<rect x="681.8" y="651" width="119.7" height="52.1" fill="none" stroke="#6666cc" stroke-width="3.2"/>
<text x="1234.87" y="1794" style="font-family:'Liberation Sans', Arial, Helvetica, sans-serif;font-size:92px;font-weight:400" fill="#000">p</text>
<text x="1285.52" y="1840" style="font-family:'Liberation Sans', Arial, Helvetica, sans-serif;font-size:61.5px;font-weight:400" fill="#000">T</text>
<text x="1322.99" y="1794" style="font-family:'Liberation Sans', Arial, Helvetica, sans-serif;font-size:92px;font-weight:400" fill="#000">(</text>
<text x="1352.04" y="1794" style="font-family:'Liberation Serif', 'Times New Roman', serif;font-size:92px;font-weight:400" fill="#000">π</text>
<text x="1400.44" y="1794" style="font-family:'Liberation Serif', 'Times New Roman', serif;font-size:92px;font-weight:400" fill="#000">π</text>
<text x="1450.46" y="1794" style="font-family:'Liberation Sans', Arial, Helvetica, sans-serif;font-size:92px;font-weight:400" fill="#000">)</text>
<text transform="translate(1504.29 1794) scale(0.97 1)" style="font-family:'Liberation Sans', Arial, Helvetica, sans-serif;font-size:92px;font-weight:400" fill="#000">[GeV/c]</text>
<g transform="translate(98 1030.5) rotate(-90)">
<text x="-3.72" y="0" style="font-family:'Liberation Sans', Arial, Helvetica, sans-serif;font-size:88.6px;font-weight:400" fill="#000">dσ/dp</text>
<text x="225.63" y="46.1" style="font-family:'Liberation Sans', Arial, Helvetica, sans-serif;font-size:61px;font-weight:400" fill="#000">T</text>
<text x="287.21" y="0" style="font-family:'Liberation Sans', Arial, Helvetica, sans-serif;font-size:89.7px;font-weight:400" fill="#000">[μb/(40 MeV/c)]</text>
</g>
<g clip-path="url(#c2)">
<path d="M288 3513.64 L291 3511.74 L294 3509.83 L297 3507.9 L300 3505.95 L303 3503.95 L306 3501.9 L309 3499.78 L312 3497.58 L315 3495.29 L318 3492.88 L321 3490.36 L324 3487.7 L327 3484.91 L330 3481.98 L333 3478.9 L336 3475.66 L339 3472.27 L342 3468.7 L345 3464.97 L348 3461.06 L351 3456.97 L354 3452.71 L357 3448.3 L360 3443.75 L363 3439.08 L366 3434.3 L369 3429.42 L372 3424.47 L375 3419.46 L378 3414.4 L381 3409.31 L384 3404.2 L387 3399.08 L390 3393.98 L393 3388.91 L396 3383.88 L399 3378.9 L402 3374 L405 3369.19 L408 3364.47 L411 3359.85 L414 3355.33 L417 3350.9 L420 3346.57 L423 3342.33 L426 3338.17 L429 3334.11 L432 3330.12 L435 3326.22 L438 3322.4 L441 3318.66 L444 3315 L447 3311.42 L450 3307.9 L453 3304.46 L456 3301.1 L459 3297.81 L462 3294.61 L465 3291.48 L468 3288.43 L471 3285.47 L474 3282.59 L477 3279.8 L480 3277.1 L483 3274.48 L486 3271.96 L489 3269.53 L492 3267.18 L495 3264.91 L498 3262.69 L501 3260.51 L504 3258.37 L507 3256.24 L510 3254.11 L513 3251.98 L516 3249.81 L519 3247.61 L522 3245.36 L525 3243.04 L528 3240.66 L531 3238.21 L534 3235.72 L537 3233.19 L540 3230.64 L543 3228.08 L546 3225.52 L549 3222.98 L552 3220.46 L555 3217.99 L558 3215.57 L561 3213.22 L564 3210.94 L567 3208.75 L570 3206.65 L573 3204.64 L576 3202.71 L579 3200.86 L582 3199.09 L585 3197.4 L588 3195.78 L591 3194.24 L594 3192.76 L597 3191.35 L600 3190.01 L603 3188.73 L606 3187.51 L609 3186.34 L612 3185.24 L615 3184.18 L618 3183.18 L621 3182.22 L624 3181.31 L627 3180.45 L630 3179.62 L633 3178.84 L636 3178.09 L639 3177.37 L642 3176.69 L645 3176.04 L648 3175.42 L651 3174.82 L654 3174.24 L657 3173.69 L660 3173.16 L663 3172.64 L666 3172.14 L669 3171.66 L672 3171.19 L675 3170.73 L678 3170.27 L681 3169.82 L684 3169.38 L687 3168.94 L690 3168.5 L693 3168.05 L696 3167.61 L699 3167.16 L702 3166.7 L705 3166.23 L708 3165.75 L711 3165.26 L714 3164.76 L717 3164.25 L720 3163.74 L723 3163.22 L726 3162.69 L729 3162.17 L732 3161.64 L735 3161.11 L738 3160.58 L741 3160.06 L744 3159.54 L747 3159.02 L750 3158.51 L753 3158 L756 3157.5 L759 3157.01 L762 3156.54 L765 3156.07 L768 3155.62 L771 3155.18 L774 3154.75 L777 3154.35 L780 3153.96 L783 3153.58 L786 3153.23 L789 3152.9 L792 3152.6 L795 3152.31 L798 3152.06 L801 3151.82 L804 3151.62 L807 3151.44 L810 3151.3 L813 3151.18 L816 3151.1 L819 3151.05 L822 3151.03 L825 3151.05 L828 3151.11 L831 3151.21 L834 3151.35 L837 3151.54 L840 3151.77 L843 3152.06 L846 3152.41 L849 3152.8 L852 3153.22 L855 3153.65 L858 3154.09 L861 3154.51 L864 3154.9 L867 3155.25 L870 3155.53 L873 3155.76 L876 3155.92 L879 3156.02 L882 3156.05 L885 3156.02 L888 3155.92 L891 3155.76 L894 3155.55 L897 3155.29 L900 3155 L903 3154.68 L906 3154.34 L909 3153.98 L912 3153.62 L915 3153.27 L918 3152.93 L921 3152.61 L924 3152.29 L927 3151.99 L930 3151.7 L933 3151.43 L936 3151.16 L939 3150.9 L942 3150.66 L945 3150.41 L948 3150.18 L951 3149.95 L954 3149.73 L957 3149.52 L960 3149.3 L963 3149.1 L966 3148.89 L969 3148.69 L972 3148.48 L975 3148.28 L978 3148.08 L981 3147.87 L984 3147.67 L987 3147.46 L990 3147.25 L993 3147.05 L996 3146.85 L999 3146.65 L1002 3146.46 L1005 3146.27 L1008 3146.09 L1011 3145.91 L1014 3145.75 L1017 3145.59 L1020 3145.45 L1023 3145.32 L1026 3145.2 L1029 3145.1 L1032 3145.01 L1035 3144.93 L1038 3144.88 L1041 3144.84 L1044 3144.82 L1047 3144.83 L1050 3144.85 L1053 3144.89 L1056 3144.94 L1059 3145.02 L1062 3145.11 L1065 3145.22 L1068 3145.34 L1071 3145.48 L1074 3145.63 L1077 3145.79 L1080 3145.97 L1083 3146.15 L1086 3146.35 L1089 3146.56 L1092 3146.78 L1095 3147.01 L1098 3147.24 L1101 3147.48 L1104 3147.73 L1107 3147.98 L1110 3148.24 L1113 3148.51 L1116 3148.77 L1119 3149.04 L1122 3149.32 L1125 3149.59 L1128 3149.87 L1131 3150.14 L1134 3150.42 L1137 3150.69 L1140 3150.96 L1143 3151.23 L1146 3151.5 L1149 3151.76 L1152 3152.02 L1155 3152.27 L1158 3152.51 L1161 3152.75 L1164 3152.98 L1167 3153.2 L1170 3153.42 L1173 3153.62 L1176 3153.81 L1179 3154 L1182 3154.17 L1185 3154.32 L1188 3154.47 L1191 3154.6 L1194 3154.71 L1197 3154.81 L1200 3154.89 L1203 3154.96 L1206 3155.01 L1209 3155.03 L1212 3155.04 L1215 3155.01 L1218 3154.96 L1221 3154.87 L1224 3154.75 L1227 3154.6 L1230 3154.4 L1233 3154.17 L1236 3153.89 L1239 3153.56 L1242 3153.18 L1245 3152.76 L1248 3152.3 L1251 3151.85 L1254 3151.41 L1257 3151.03 L1260 3150.73 L1263 3150.54 L1266 3150.47 L1269 3150.5 L1272 3150.63 L1275 3150.83 L1278 3151.09 L1281 3151.39 L1284 3151.72 L1287 3152.06 L1290 3152.4 L1293 3152.76 L1296 3153.12 L1299 3153.49 L1302 3153.86 L1305 3154.24 L1308 3154.62 L1311 3155.01 L1314 3155.41 L1317 3155.81 L1320 3156.22 L1323 3156.63 L1326 3157.05 L1329 3157.47 L1332 3157.9 L1335 3158.34 L1338 3158.77 L1341 3159.22 L1344 3159.67 L1347 3160.12 L1350 3160.58 L1353 3161.05 L1356 3161.51 L1359 3161.99 L1362 3162.46 L1365 3162.95 L1368 3163.43 L1371 3163.92 L1374 3164.42 L1377 3164.92 L1380 3165.42 L1383 3165.92 L1386 3166.44 L1389 3166.95 L1392 3167.47 L1395 3167.99 L1398 3168.52 L1401 3169.05 L1404 3169.58 L1407 3170.12 L1410 3170.66 L1413 3171.21 L1416 3171.76 L1419 3172.32 L1422 3172.88 L1425 3173.45 L1428 3174.02 L1431 3174.59 L1434 3175.18 L1437 3175.76 L1440 3176.35 L1443 3176.95 L1446 3177.55 L1449 3178.16 L1452 3178.78 L1455 3179.41 L1458 3180.07 L1461 3180.76 L1464 3181.48 L1467 3182.25 L1470 3183.07 L1473 3183.94 L1476 3184.89 L1479 3185.9 L1482 3186.98 L1485 3188.16 L1488 3189.42 L1491 3190.78 L1494 3192.25 L1497 3193.83 L1500 3195.52 L1503 3197.34 L1506 3199.27 L1509 3201.3 L1512 3203.43 L1515 3205.63 L1518 3207.9 L1521 3210.23 L1524 3212.6 L1527 3215.01 L1530 3217.44 L1533 3219.89 L1536 3222.33 L1539 3224.76 L1542 3227.17 L1545 3229.54 L1548 3231.88 L1551 3234.19 L1554 3236.48 L1557 3238.74 L1560 3240.99 L1563 3243.23 L1566 3245.46 L1569 3247.69 L1572 3249.92 L1575 3252.15 L1578 3254.4 L1581 3256.67 L1584 3258.95 L1587 3261.26 L1590 3263.6 L1593 3265.97 L1596 3268.38 L1599 3270.84 L1602 3273.34 L1605 3275.9 L1608 3278.51 L1611 3281.18 L1614 3283.92 L1617 3286.73 L1620 3289.61 L1623 3292.58 L1626 3295.62 L1629 3298.76 L1632 3301.99 L1635 3305.32 L1638 3308.75 L1641 3312.29 L1644 3315.93 L1647 3319.68 L1650 3323.53 L1653 3327.48 L1656 3331.52 L1659 3335.65 L1662 3339.86 L1665 3344.16 L1668 3348.53 L1671 3352.98 L1674 3357.51 L1677 3362.1 L1680 3366.75 L1683 3371.47 L1686 3376.24 L1689 3381.06 L1692 3385.94 L1695 3390.86 L1698 3395.82 L1701 3400.82 L1704 3405.83 L1707 3410.86 L1710 3415.87 L1713 3420.86 L1716 3425.82 L1719 3430.72 L1722 3435.56 L1725 3440.33 L1728 3445 L1731 3449.56 L1734 3454.01 L1737 3458.32 L1740 3462.48 L1743 3466.48 L1746 3470.31 L1749 3473.94 L1752 3477.38 L1755 3480.59 L1758 3483.59 L1761 3486.4 L1764 3489.04 L1767 3491.52 L1770 3493.87 L1773 3496.11 L1776 3498.25 L1779 3500.33 L1782 3502.35 L1785 3504.35 L1788 3506.33 L1791 3508.32 L1794 3510.34 L1797 3512.41 L1798.9 3513.76 Z" fill="#cccb99"/>
<path d="M288 3513.72 L291 3513.31 L294 3512.92 L297 3512.54 L300 3512.18 L303 3511.83 L306 3511.48 L309 3511.14 L312 3510.8 L315 3510.45 L318 3510.1 L321 3509.74 L324 3509.37 L327 3508.98 L330 3508.57 L333 3508.14 L336 3507.69 L339 3507.21 L342 3506.7 L345 3506.16 L348 3505.57 L351 3504.95 L354 3504.29 L357 3503.58 L360 3502.82 L363 3502 L366 3501.14 L369 3500.21 L372 3499.22 L375 3498.19 L378 3497.1 L381 3495.97 L384 3494.8 L387 3493.6 L390 3492.37 L393 3491.12 L396 3489.85 L399 3488.56 L402 3487.27 L405 3485.97 L408 3484.67 L411 3483.38 L414 3482.1 L417 3480.84 L420 3479.6 L423 3478.37 L426 3477.17 L429 3475.99 L432 3474.83 L435 3473.7 L438 3472.59 L441 3471.5 L444 3470.44 L447 3469.41 L450 3468.4 L453 3467.41 L456 3466.46 L459 3465.52 L462 3464.61 L465 3463.73 L468 3462.86 L471 3462.02 L474 3461.21 L477 3460.41 L480 3459.64 L483 3458.89 L486 3458.15 L489 3457.44 L492 3456.75 L495 3456.08 L498 3455.43 L501 3454.8 L504 3454.18 L507 3453.58 L510 3453 L513 3452.44 L516 3451.9 L519 3451.37 L522 3450.85 L525 3450.36 L528 3449.87 L531 3449.41 L534 3448.95 L537 3448.51 L540 3448.08 L543 3447.67 L546 3447.27 L549 3446.88 L552 3446.5 L555 3446.14 L558 3445.78 L561 3445.44 L564 3445.1 L567 3444.78 L570 3444.46 L573 3444.16 L576 3443.86 L579 3443.57 L582 3443.29 L585 3443.01 L588 3442.74 L591 3442.48 L594 3442.22 L597 3441.97 L600 3441.73 L603 3441.49 L606 3441.25 L609 3441.02 L612 3440.79 L615 3440.56 L618 3440.34 L621 3440.12 L624 3439.9 L627 3439.68 L630 3439.46 L633 3439.25 L636 3439.03 L639 3438.81 L642 3438.6 L645 3438.38 L648 3438.16 L651 3437.94 L654 3437.72 L657 3437.5 L660 3437.28 L663 3437.06 L666 3436.84 L669 3436.62 L672 3436.4 L675 3436.18 L678 3435.97 L681 3435.75 L684 3435.53 L687 3435.31 L690 3435.1 L693 3434.88 L696 3434.67 L699 3434.46 L702 3434.25 L705 3434.04 L708 3433.83 L711 3433.62 L714 3433.42 L717 3433.22 L720 3433.02 L723 3432.82 L726 3432.62 L729 3432.43 L732 3432.24 L735 3432.05 L738 3431.86 L741 3431.68 L744 3431.5 L747 3431.32 L750 3431.15 L753 3430.98 L756 3430.81 L759 3430.65 L762 3430.49 L765 3430.33 L768 3430.18 L771 3430.03 L774 3429.89 L777 3429.74 L780 3429.61 L783 3429.48 L786 3429.35 L789 3429.23 L792 3429.11 L795 3428.99 L798 3428.89 L801 3428.78 L804 3428.68 L807 3428.59 L810 3428.5 L813 3428.42 L816 3428.34 L819 3428.27 L822 3428.21 L825 3428.15 L828 3428.09 L831 3428.05 L834 3428.01 L837 3427.97 L840 3427.94 L843 3427.92 L846 3427.9 L849 3427.89 L852 3427.89 L855 3427.89 L858 3427.89 L861 3427.9 L864 3427.92 L867 3427.94 L870 3427.96 L873 3427.99 L876 3428.02 L879 3428.06 L882 3428.1 L885 3428.15 L888 3428.19 L891 3428.25 L894 3428.3 L897 3428.36 L900 3428.42 L903 3428.48 L906 3428.55 L909 3428.62 L912 3428.69 L915 3428.76 L918 3428.83 L921 3428.91 L924 3428.99 L927 3429.06 L930 3429.14 L933 3429.23 L936 3429.31 L939 3429.39 L942 3429.47 L945 3429.56 L948 3429.64 L951 3429.72 L954 3429.81 L957 3429.89 L960 3429.97 L963 3430.05 L966 3430.13 L969 3430.21 L972 3430.29 L975 3430.37 L978 3430.45 L981 3430.52 L984 3430.59 L987 3430.66 L990 3430.73 L993 3430.8 L996 3430.86 L999 3430.92 L1002 3430.98 L1005 3431.03 L1008 3431.09 L1011 3431.13 L1014 3431.18 L1017 3431.22 L1020 3431.26 L1023 3431.29 L1026 3431.32 L1029 3431.34 L1032 3431.36 L1035 3431.38 L1038 3431.39 L1041 3431.39 L1044 3431.39 L1047 3431.39 L1050 3431.38 L1053 3431.36 L1056 3431.34 L1059 3431.32 L1062 3431.29 L1065 3431.26 L1068 3431.22 L1071 3431.18 L1074 3431.13 L1077 3431.09 L1080 3431.03 L1083 3430.98 L1086 3430.92 L1089 3430.86 L1092 3430.8 L1095 3430.73 L1098 3430.66 L1101 3430.59 L1104 3430.52 L1107 3430.45 L1110 3430.37 L1113 3430.3 L1116 3430.22 L1119 3430.14 L1122 3430.06 L1125 3429.98 L1128 3429.9 L1131 3429.82 L1134 3429.74 L1137 3429.66 L1140 3429.58 L1143 3429.5 L1146 3429.42 L1149 3429.34 L1152 3429.27 L1155 3429.19 L1158 3429.11 L1161 3429.04 L1164 3428.97 L1167 3428.9 L1170 3428.83 L1173 3428.77 L1176 3428.71 L1179 3428.64 L1182 3428.59 L1185 3428.53 L1188 3428.48 L1191 3428.43 L1194 3428.39 L1197 3428.35 L1200 3428.31 L1203 3428.28 L1206 3428.25 L1209 3428.22 L1212 3428.2 L1215 3428.18 L1218 3428.16 L1221 3428.15 L1224 3428.14 L1227 3428.14 L1230 3428.14 L1233 3428.14 L1236 3428.15 L1239 3428.16 L1242 3428.17 L1245 3428.19 L1248 3428.22 L1251 3428.25 L1254 3428.28 L1257 3428.32 L1260 3428.36 L1263 3428.4 L1266 3428.45 L1269 3428.51 L1272 3428.57 L1275 3428.63 L1278 3428.7 L1281 3428.77 L1284 3428.85 L1287 3428.93 L1290 3429.02 L1293 3429.11 L1296 3429.2 L1299 3429.3 L1302 3429.41 L1305 3429.52 L1308 3429.63 L1311 3429.75 L1314 3429.87 L1317 3430 L1320 3430.13 L1323 3430.26 L1326 3430.4 L1329 3430.54 L1332 3430.69 L1335 3430.84 L1338 3430.99 L1341 3431.15 L1344 3431.31 L1347 3431.48 L1350 3431.65 L1353 3431.82 L1356 3431.99 L1359 3432.17 L1362 3432.35 L1365 3432.54 L1368 3432.73 L1371 3432.92 L1374 3433.11 L1377 3433.31 L1380 3433.51 L1383 3433.71 L1386 3433.92 L1389 3434.13 L1392 3434.34 L1395 3434.55 L1398 3434.77 L1401 3434.99 L1404 3435.21 L1407 3435.43 L1410 3435.66 L1413 3435.89 L1416 3436.12 L1419 3436.35 L1422 3436.58 L1425 3436.82 L1428 3437.06 L1431 3437.3 L1434 3437.54 L1437 3437.79 L1440 3438.03 L1443 3438.28 L1446 3438.53 L1449 3438.78 L1452 3439.03 L1455 3439.29 L1458 3439.54 L1461 3439.8 L1464 3440.06 L1467 3440.31 L1470 3440.57 L1473 3440.84 L1476 3441.1 L1479 3441.36 L1482 3441.62 L1485 3441.89 L1488 3442.16 L1491 3442.43 L1494 3442.7 L1497 3442.98 L1500 3443.26 L1503 3443.55 L1506 3443.84 L1509 3444.13 L1512 3444.43 L1515 3444.74 L1518 3445.05 L1521 3445.38 L1524 3445.71 L1527 3446.04 L1530 3446.39 L1533 3446.74 L1536 3447.11 L1539 3447.48 L1542 3447.87 L1545 3448.26 L1548 3448.67 L1551 3449.08 L1554 3449.52 L1557 3449.96 L1560 3450.41 L1563 3450.88 L1566 3451.37 L1569 3451.87 L1572 3452.38 L1575 3452.91 L1578 3453.45 L1581 3454.01 L1584 3454.59 L1587 3455.19 L1590 3455.8 L1593 3456.43 L1596 3457.08 L1599 3457.75 L1602 3458.44 L1605 3459.15 L1608 3459.87 L1611 3460.62 L1614 3461.39 L1617 3462.19 L1620 3463 L1623 3463.84 L1626 3464.7 L1629 3465.59 L1632 3466.5 L1635 3467.43 L1638 3468.39 L1641 3469.37 L1644 3470.38 L1647 3471.42 L1650 3472.48 L1653 3473.57 L1656 3474.69 L1659 3475.84 L1662 3477.02 L1665 3478.22 L1668 3479.46 L1671 3480.72 L1674 3482.01 L1677 3483.33 L1680 3484.67 L1683 3486.02 L1686 3487.37 L1689 3488.73 L1692 3490.07 L1695 3491.41 L1698 3492.73 L1701 3494.02 L1704 3495.28 L1707 3496.5 L1710 3497.69 L1713 3498.82 L1716 3499.89 L1719 3500.91 L1722 3501.86 L1725 3502.74 L1728 3503.56 L1731 3504.32 L1734 3505.02 L1737 3505.66 L1740 3506.25 L1743 3506.78 L1746 3507.26 L1749 3507.7 L1752 3508.1 L1755 3508.47 L1758 3508.81 L1761 3509.13 L1764 3509.44 L1767 3509.74 L1770 3510.03 L1773 3510.33 L1776 3510.64 L1779 3510.96 L1782 3511.31 L1785 3511.68 L1788 3512.08 L1791 3512.52 L1794 3513.01 L1797 3513.55 L1798.9 3513.92 Z" fill="#666633"/>
<path d="M288 3513.64 L291 3511.74 L294 3509.83 L297 3507.9 L300 3505.95 L303 3503.95 L306 3501.9 L309 3499.78 L312 3497.58 L315 3495.29 L318 3492.88 L321 3490.36 L324 3487.7 L327 3484.91 L330 3481.98 L333 3478.9 L336 3475.66 L339 3472.27 L342 3468.7 L345 3464.97 L348 3461.06 L351 3456.97 L354 3452.71 L357 3448.3 L360 3443.75 L363 3439.08 L366 3434.3 L369 3429.42 L372 3424.47 L375 3419.46 L378 3414.4 L381 3409.31 L384 3404.2 L387 3399.08 L390 3393.98 L393 3388.91 L396 3383.88 L399 3378.9 L402 3374 L405 3369.19 L408 3364.47 L411 3359.85 L414 3355.33 L417 3350.9 L420 3346.57 L423 3342.33 L426 3338.17 L429 3334.11 L432 3330.12 L435 3326.22 L438 3322.4 L441 3318.66 L444 3315 L447 3311.42 L450 3307.9 L453 3304.46 L456 3301.1 L459 3297.81 L462 3294.61 L465 3291.48 L468 3288.43 L471 3285.47 L474 3282.59 L477 3279.8 L480 3277.1 L483 3274.48 L486 3271.96 L489 3269.53 L492 3267.18 L495 3264.91 L498 3262.69 L501 3260.51 L504 3258.37 L507 3256.24 L510 3254.11 L513 3251.98 L516 3249.81 L519 3247.61 L522 3245.36 L525 3243.04 L528 3240.66 L531 3238.21 L534 3235.72 L537 3233.19 L540 3230.64 L543 3228.08 L546 3225.52 L549 3222.98 L552 3220.46 L555 3217.99 L558 3215.57 L561 3213.22 L564 3210.94 L567 3208.75 L570 3206.65 L573 3204.64 L576 3202.71 L579 3200.86 L582 3199.09 L585 3197.4 L588 3195.78 L591 3194.24 L594 3192.76 L597 3191.35 L600 3190.01 L603 3188.73 L606 3187.51 L609 3186.34 L612 3185.24 L615 3184.18 L618 3183.18 L621 3182.22 L624 3181.31 L627 3180.45 L630 3179.62 L633 3178.84 L636 3178.09 L639 3177.37 L642 3176.69 L645 3176.04 L648 3175.42 L651 3174.82 L654 3174.24 L657 3173.69 L660 3173.16 L663 3172.64 L666 3172.14 L669 3171.66 L672 3171.19 L675 3170.73 L678 3170.27 L681 3169.82 L684 3169.38 L687 3168.94 L690 3168.5 L693 3168.05 L696 3167.61 L699 3167.16 L702 3166.7 L705 3166.23 L708 3165.75 L711 3165.26 L714 3164.76 L717 3164.25 L720 3163.74 L723 3163.22 L726 3162.69 L729 3162.17 L732 3161.64 L735 3161.11 L738 3160.58 L741 3160.06 L744 3159.54 L747 3159.02 L750 3158.51 L753 3158 L756 3157.5 L759 3157.01 L762 3156.54 L765 3156.07 L768 3155.62 L771 3155.18 L774 3154.75 L777 3154.35 L780 3153.96 L783 3153.58 L786 3153.23 L789 3152.9 L792 3152.6 L795 3152.31 L798 3152.06 L801 3151.82 L804 3151.62 L807 3151.44 L810 3151.3 L813 3151.18 L816 3151.1 L819 3151.05 L822 3151.03 L825 3151.05 L828 3151.11 L831 3151.21 L834 3151.35 L837 3151.54 L840 3151.77 L843 3152.06 L846 3152.41 L849 3152.8 L852 3153.22 L855 3153.65 L858 3154.09 L861 3154.51 L864 3154.9 L867 3155.25 L870 3155.53 L873 3155.76 L876 3155.92 L879 3156.02 L882 3156.05 L885 3156.02 L888 3155.92 L891 3155.76 L894 3155.55 L897 3155.29 L900 3155 L903 3154.68 L906 3154.34 L909 3153.98 L912 3153.62 L915 3153.27 L918 3152.93 L921 3152.61 L924 3152.29 L927 3151.99 L930 3151.7 L933 3151.43 L936 3151.16 L939 3150.9 L942 3150.66 L945 3150.41 L948 3150.18 L951 3149.95 L954 3149.73 L957 3149.52 L960 3149.3 L963 3149.1 L966 3148.89 L969 3148.69 L972 3148.48 L975 3148.28 L978 3148.08 L981 3147.87 L984 3147.67 L987 3147.46 L990 3147.25 L993 3147.05 L996 3146.85 L999 3146.65 L1002 3146.46 L1005 3146.27 L1008 3146.09 L1011 3145.91 L1014 3145.75 L1017 3145.59 L1020 3145.45 L1023 3145.32 L1026 3145.2 L1029 3145.1 L1032 3145.01 L1035 3144.93 L1038 3144.88 L1041 3144.84 L1044 3144.82 L1047 3144.83 L1050 3144.85 L1053 3144.89 L1056 3144.94 L1059 3145.02 L1062 3145.11 L1065 3145.22 L1068 3145.34 L1071 3145.48 L1074 3145.63 L1077 3145.79 L1080 3145.97 L1083 3146.15 L1086 3146.35 L1089 3146.56 L1092 3146.78 L1095 3147.01 L1098 3147.24 L1101 3147.48 L1104 3147.73 L1107 3147.98 L1110 3148.24 L1113 3148.51 L1116 3148.77 L1119 3149.04 L1122 3149.32 L1125 3149.59 L1128 3149.87 L1131 3150.14 L1134 3150.42 L1137 3150.69 L1140 3150.96 L1143 3151.23 L1146 3151.5 L1149 3151.76 L1152 3152.02 L1155 3152.27 L1158 3152.51 L1161 3152.75 L1164 3152.98 L1167 3153.2 L1170 3153.42 L1173 3153.62 L1176 3153.81 L1179 3154 L1182 3154.17 L1185 3154.32 L1188 3154.47 L1191 3154.6 L1194 3154.71 L1197 3154.81 L1200 3154.89 L1203 3154.96 L1206 3155.01 L1209 3155.03 L1212 3155.04 L1215 3155.01 L1218 3154.96 L1221 3154.87 L1224 3154.75 L1227 3154.6 L1230 3154.4 L1233 3154.17 L1236 3153.89 L1239 3153.56 L1242 3153.18 L1245 3152.76 L1248 3152.3 L1251 3151.85 L1254 3151.41 L1257 3151.03 L1260 3150.73 L1263 3150.54 L1266 3150.47 L1269 3150.5 L1272 3150.63 L1275 3150.83 L1278 3151.09 L1281 3151.39 L1284 3151.72 L1287 3152.06 L1290 3152.4 L1293 3152.76 L1296 3153.12 L1299 3153.49 L1302 3153.86 L1305 3154.24 L1308 3154.62 L1311 3155.01 L1314 3155.41 L1317 3155.81 L1320 3156.22 L1323 3156.63 L1326 3157.05 L1329 3157.47 L1332 3157.9 L1335 3158.34 L1338 3158.77 L1341 3159.22 L1344 3159.67 L1347 3160.12 L1350 3160.58 L1353 3161.05 L1356 3161.51 L1359 3161.99 L1362 3162.46 L1365 3162.95 L1368 3163.43 L1371 3163.92 L1374 3164.42 L1377 3164.92 L1380 3165.42 L1383 3165.92 L1386 3166.44 L1389 3166.95 L1392 3167.47 L1395 3167.99 L1398 3168.52 L1401 3169.05 L1404 3169.58 L1407 3170.12 L1410 3170.66 L1413 3171.21 L1416 3171.76 L1419 3172.32 L1422 3172.88 L1425 3173.45 L1428 3174.02 L1431 3174.59 L1434 3175.18 L1437 3175.76 L1440 3176.35 L1443 3176.95 L1446 3177.55 L1449 3178.16 L1452 3178.78 L1455 3179.41 L1458 3180.07 L1461 3180.76 L1464 3181.48 L1467 3182.25 L1470 3183.07 L1473 3183.94 L1476 3184.89 L1479 3185.9 L1482 3186.98 L1485 3188.16 L1488 3189.42 L1491 3190.78 L1494 3192.25 L1497 3193.83 L1500 3195.52 L1503 3197.34 L1506 3199.27 L1509 3201.3 L1512 3203.43 L1515 3205.63 L1518 3207.9 L1521 3210.23 L1524 3212.6 L1527 3215.01 L1530 3217.44 L1533 3219.89 L1536 3222.33 L1539 3224.76 L1542 3227.17 L1545 3229.54 L1548 3231.88 L1551 3234.19 L1554 3236.48 L1557 3238.74 L1560 3240.99 L1563 3243.23 L1566 3245.46 L1569 3247.69 L1572 3249.92 L1575 3252.15 L1578 3254.4 L1581 3256.67 L1584 3258.95 L1587 3261.26 L1590 3263.6 L1593 3265.97 L1596 3268.38 L1599 3270.84 L1602 3273.34 L1605 3275.9 L1608 3278.51 L1611 3281.18 L1614 3283.92 L1617 3286.73 L1620 3289.61 L1623 3292.58 L1626 3295.62 L1629 3298.76 L1632 3301.99 L1635 3305.32 L1638 3308.75 L1641 3312.29 L1644 3315.93 L1647 3319.68 L1650 3323.53 L1653 3327.48 L1656 3331.52 L1659 3335.65 L1662 3339.86 L1665 3344.16 L1668 3348.53 L1671 3352.98 L1674 3357.51 L1677 3362.1 L1680 3366.75 L1683 3371.47 L1686 3376.24 L1689 3381.06 L1692 3385.94 L1695 3390.86 L1698 3395.82 L1701 3400.82 L1704 3405.83 L1707 3410.86 L1710 3415.87 L1713 3420.86 L1716 3425.82 L1719 3430.72 L1722 3435.56 L1725 3440.33 L1728 3445 L1731 3449.56 L1734 3454.01 L1737 3458.32 L1740 3462.48 L1743 3466.48 L1746 3470.31 L1749 3473.94 L1752 3477.38 L1755 3480.59 L1758 3483.59 L1761 3486.4 L1764 3489.04 L1767 3491.52 L1770 3493.87 L1773 3496.11 L1776 3498.25 L1779 3500.33 L1782 3502.35 L1785 3504.35 L1788 3506.33 L1791 3508.32 L1794 3510.34 L1797 3512.41 L1798.9 3513.76" fill="none" stroke="#ff0000" stroke-width="5.5"/>
<path d="M288 3513.72 L291 3513.31 L294 3512.92 L297 3512.54 L300 3512.18 L303 3511.83 L306 3511.48 L309 3511.14 L312 3510.8 L315 3510.45 L318 3510.1 L321 3509.74 L324 3509.37 L327 3508.98 L330 3508.57 L333 3508.14 L336 3507.69 L339 3507.21 L342 3506.7 L345 3506.16 L348 3505.57 L351 3504.95 L354 3504.29 L357 3503.58 L360 3502.82 L363 3502 L366 3501.14 L369 3500.21 L372 3499.22 L375 3498.19 L378 3497.1 L381 3495.97 L384 3494.8 L387 3493.6 L390 3492.37 L393 3491.12 L396 3489.85 L399 3488.56 L402 3487.27 L405 3485.97 L408 3484.67 L411 3483.38 L414 3482.1 L417 3480.84 L420 3479.6 L423 3478.37 L426 3477.17 L429 3475.99 L432 3474.83 L435 3473.7 L438 3472.59 L441 3471.5 L444 3470.44 L447 3469.41 L450 3468.4 L453 3467.41 L456 3466.46 L459 3465.52 L462 3464.61 L465 3463.73 L468 3462.86 L471 3462.02 L474 3461.21 L477 3460.41 L480 3459.64 L483 3458.89 L486 3458.15 L489 3457.44 L492 3456.75 L495 3456.08 L498 3455.43 L501 3454.8 L504 3454.18 L507 3453.58 L510 3453 L513 3452.44 L516 3451.9 L519 3451.37 L522 3450.85 L525 3450.36 L528 3449.87 L531 3449.41 L534 3448.95 L537 3448.51 L540 3448.08 L543 3447.67 L546 3447.27 L549 3446.88 L552 3446.5 L555 3446.14 L558 3445.78 L561 3445.44 L564 3445.1 L567 3444.78 L570 3444.46 L573 3444.16 L576 3443.86 L579 3443.57 L582 3443.29 L585 3443.01 L588 3442.74 L591 3442.48 L594 3442.22 L597 3441.97 L600 3441.73 L603 3441.49 L606 3441.25 L609 3441.02 L612 3440.79 L615 3440.56 L618 3440.34 L621 3440.12 L624 3439.9 L627 3439.68 L630 3439.46 L633 3439.25 L636 3439.03 L639 3438.81 L642 3438.6 L645 3438.38 L648 3438.16 L651 3437.94 L654 3437.72 L657 3437.5 L660 3437.28 L663 3437.06 L666 3436.84 L669 3436.62 L672 3436.4 L675 3436.18 L678 3435.97 L681 3435.75 L684 3435.53 L687 3435.31 L690 3435.1 L693 3434.88 L696 3434.67 L699 3434.46 L702 3434.25 L705 3434.04 L708 3433.83 L711 3433.62 L714 3433.42 L717 3433.22 L720 3433.02 L723 3432.82 L726 3432.62 L729 3432.43 L732 3432.24 L735 3432.05 L738 3431.86 L741 3431.68 L744 3431.5 L747 3431.32 L750 3431.15 L753 3430.98 L756 3430.81 L759 3430.65 L762 3430.49 L765 3430.33 L768 3430.18 L771 3430.03 L774 3429.89 L777 3429.74 L780 3429.61 L783 3429.48 L786 3429.35 L789 3429.23 L792 3429.11 L795 3428.99 L798 3428.89 L801 3428.78 L804 3428.68 L807 3428.59 L810 3428.5 L813 3428.42 L816 3428.34 L819 3428.27 L822 3428.21 L825 3428.15 L828 3428.09 L831 3428.05 L834 3428.01 L837 3427.97 L840 3427.94 L843 3427.92 L846 3427.9 L849 3427.89 L852 3427.89 L855 3427.89 L858 3427.89 L861 3427.9 L864 3427.92 L867 3427.94 L870 3427.96 L873 3427.99 L876 3428.02 L879 3428.06 L882 3428.1 L885 3428.15 L888 3428.19 L891 3428.25 L894 3428.3 L897 3428.36 L900 3428.42 L903 3428.48 L906 3428.55 L909 3428.62 L912 3428.69 L915 3428.76 L918 3428.83 L921 3428.91 L924 3428.99 L927 3429.06 L930 3429.14 L933 3429.23 L936 3429.31 L939 3429.39 L942 3429.47 L945 3429.56 L948 3429.64 L951 3429.72 L954 3429.81 L957 3429.89 L960 3429.97 L963 3430.05 L966 3430.13 L969 3430.21 L972 3430.29 L975 3430.37 L978 3430.45 L981 3430.52 L984 3430.59 L987 3430.66 L990 3430.73 L993 3430.8 L996 3430.86 L999 3430.92 L1002 3430.98 L1005 3431.03 L1008 3431.09 L1011 3431.13 L1014 3431.18 L1017 3431.22 L1020 3431.26 L1023 3431.29 L1026 3431.32 L1029 3431.34 L1032 3431.36 L1035 3431.38 L1038 3431.39 L1041 3431.39 L1044 3431.39 L1047 3431.39 L1050 3431.38 L1053 3431.36 L1056 3431.34 L1059 3431.32 L1062 3431.29 L1065 3431.26 L1068 3431.22 L1071 3431.18 L1074 3431.13 L1077 3431.09 L1080 3431.03 L1083 3430.98 L1086 3430.92 L1089 3430.86 L1092 3430.8 L1095 3430.73 L1098 3430.66 L1101 3430.59 L1104 3430.52 L1107 3430.45 L1110 3430.37 L1113 3430.3 L1116 3430.22 L1119 3430.14 L1122 3430.06 L1125 3429.98 L1128 3429.9 L1131 3429.82 L1134 3429.74 L1137 3429.66 L1140 3429.58 L1143 3429.5 L1146 3429.42 L1149 3429.34 L1152 3429.27 L1155 3429.19 L1158 3429.11 L1161 3429.04 L1164 3428.97 L1167 3428.9 L1170 3428.83 L1173 3428.77 L1176 3428.71 L1179 3428.64 L1182 3428.59 L1185 3428.53 L1188 3428.48 L1191 3428.43 L1194 3428.39 L1197 3428.35 L1200 3428.31 L1203 3428.28 L1206 3428.25 L1209 3428.22 L1212 3428.2 L1215 3428.18 L1218 3428.16 L1221 3428.15 L1224 3428.14 L1227 3428.14 L1230 3428.14 L1233 3428.14 L1236 3428.15 L1239 3428.16 L1242 3428.17 L1245 3428.19 L1248 3428.22 L1251 3428.25 L1254 3428.28 L1257 3428.32 L1260 3428.36 L1263 3428.4 L1266 3428.45 L1269 3428.51 L1272 3428.57 L1275 3428.63 L1278 3428.7 L1281 3428.77 L1284 3428.85 L1287 3428.93 L1290 3429.02 L1293 3429.11 L1296 3429.2 L1299 3429.3 L1302 3429.41 L1305 3429.52 L1308 3429.63 L1311 3429.75 L1314 3429.87 L1317 3430 L1320 3430.13 L1323 3430.26 L1326 3430.4 L1329 3430.54 L1332 3430.69 L1335 3430.84 L1338 3430.99 L1341 3431.15 L1344 3431.31 L1347 3431.48 L1350 3431.65 L1353 3431.82 L1356 3431.99 L1359 3432.17 L1362 3432.35 L1365 3432.54 L1368 3432.73 L1371 3432.92 L1374 3433.11 L1377 3433.31 L1380 3433.51 L1383 3433.71 L1386 3433.92 L1389 3434.13 L1392 3434.34 L1395 3434.55 L1398 3434.77 L1401 3434.99 L1404 3435.21 L1407 3435.43 L1410 3435.66 L1413 3435.89 L1416 3436.12 L1419 3436.35 L1422 3436.58 L1425 3436.82 L1428 3437.06 L1431 3437.3 L1434 3437.54 L1437 3437.79 L1440 3438.03 L1443 3438.28 L1446 3438.53 L1449 3438.78 L1452 3439.03 L1455 3439.29 L1458 3439.54 L1461 3439.8 L1464 3440.06 L1467 3440.31 L1470 3440.57 L1473 3440.84 L1476 3441.1 L1479 3441.36 L1482 3441.62 L1485 3441.89 L1488 3442.16 L1491 3442.43 L1494 3442.7 L1497 3442.98 L1500 3443.26 L1503 3443.55 L1506 3443.84 L1509 3444.13 L1512 3444.43 L1515 3444.74 L1518 3445.05 L1521 3445.38 L1524 3445.71 L1527 3446.04 L1530 3446.39 L1533 3446.74 L1536 3447.11 L1539 3447.48 L1542 3447.87 L1545 3448.26 L1548 3448.67 L1551 3449.08 L1554 3449.52 L1557 3449.96 L1560 3450.41 L1563 3450.88 L1566 3451.37 L1569 3451.87 L1572 3452.38 L1575 3452.91 L1578 3453.45 L1581 3454.01 L1584 3454.59 L1587 3455.19 L1590 3455.8 L1593 3456.43 L1596 3457.08 L1599 3457.75 L1602 3458.44 L1605 3459.15 L1608 3459.87 L1611 3460.62 L1614 3461.39 L1617 3462.19 L1620 3463 L1623 3463.84 L1626 3464.7 L1629 3465.59 L1632 3466.5 L1635 3467.43 L1638 3468.39 L1641 3469.37 L1644 3470.38 L1647 3471.42 L1650 3472.48 L1653 3473.57 L1656 3474.69 L1659 3475.84 L1662 3477.02 L1665 3478.22 L1668 3479.46 L1671 3480.72 L1674 3482.01 L1677 3483.33 L1680 3484.67 L1683 3486.02 L1686 3487.37 L1689 3488.73 L1692 3490.07 L1695 3491.41 L1698 3492.73 L1701 3494.02 L1704 3495.28 L1707 3496.5 L1710 3497.69 L1713 3498.82 L1716 3499.89 L1719 3500.91 L1722 3501.86 L1725 3502.74 L1728 3503.56 L1731 3504.32 L1734 3505.02 L1737 3505.66 L1740 3506.25 L1743 3506.78 L1746 3507.26 L1749 3507.7 L1752 3508.1 L1755 3508.47 L1758 3508.81 L1761 3509.13 L1764 3509.44 L1767 3509.74 L1770 3510.03 L1773 3510.33 L1776 3510.64 L1779 3510.96 L1782 3511.31 L1785 3511.68 L1788 3512.08 L1791 3512.52 L1794 3513.01 L1797 3513.55 L1798.9 3513.92" fill="none" stroke="#000" stroke-width="6" stroke-dasharray="17 16"/>
<path d="M288 3513.65 L291 3511.77 L294 3509.88 L297 3507.98 L300 3506.06 L303 3504.09 L306 3502.08 L309 3500 L312 3497.85 L315 3495.6 L318 3493.26 L321 3490.8 L324 3488.21 L327 3485.5 L330 3482.65 L333 3479.66 L336 3476.52 L339 3473.23 L342 3469.79 L345 3466.18 L348 3462.42 L351 3458.52 L354 3454.48 L357 3450.3 L360 3446 L363 3441.6 L366 3437.11 L369 3432.54 L372 3427.92 L375 3423.25 L378 3418.55 L381 3413.83 L384 3409.12 L387 3404.42 L390 3399.74 L393 3395.11 L396 3390.54 L399 3386.03 L402 3381.61 L405 3377.29 L408 3373.08 L411 3368.97 L414 3364.97 L417 3361.07 L420 3357.27 L423 3353.51 L426 3349.6 L429 3345.77 L432 3342.01 L435 3338.33 L438 3334.73 L441 3331.2 L444 3327.74 L447 3324.35 L450 3321.03 L453 3317.77 L456 3314.59 L459 3311.48 L462 3308.4 L465 3305.37 L468 3302.42 L471 3299.54 L474 3296.74 L477 3294.02 L480 3291.38 L483 3288.82 L486 3286.35 L489 3283.96 L492 3281.64 L495 3279.39 L498 3277.2 L501 3275.04 L504 3272.91 L507 3270.79 L510 3268.67 L513 3266.54 L516 3264.39 L519 3262.23 L522 3260.03 L525 3257.76 L528 3255.43 L531 3253.03 L534 3250.6 L537 3248.12 L540 3245.63 L543 3243.12 L546 3240.62 L549 3238.13 L552 3235.66 L555 3233.24 L558 3230.86 L561 3228.54 L564 3226.29 L567 3224.13 L570 3222.05 L573 3220.05 L576 3218.13 L579 3216.29 L582 3214.52 L585 3212.82 L588 3211.19 L591 3209.63 L594 3208.17 L597 3206.77 L600 3205.44 L603 3204.17 L606 3202.96 L609 3201.79 L612 3200.69 L615 3199.63 L618 3198.62 L621 3197.65 L624 3196.73 L627 3195.86 L630 3195.02 L633 3194.21 L636 3193.45 L639 3192.71 L642 3192.01 L645 3191.33 L648 3190.68 L651 3190.05 L654 3189.45 L657 3188.87 L660 3188.3 L663 3187.76 L666 3187.23 L669 3186.71 L672 3186.2 L675 3185.71 L678 3185.22 L681 3184.73 L684 3184.25 L687 3183.78 L690 3183.3 L693 3182.82 L696 3182.34 L699 3181.85 L702 3181.35 L705 3180.85 L708 3180.34 L711 3179.83 L714 3179.31 L717 3178.78 L720 3178.24 L723 3177.7 L726 3177.15 L729 3176.6 L732 3176.05 L735 3175.5 L738 3174.95 L741 3174.4 L744 3173.85 L747 3173.31 L750 3172.77 L753 3172.24 L756 3171.72 L759 3171.2 L762 3170.7 L765 3170.21 L768 3169.72 L771 3169.26 L774 3168.8 L777 3168.37 L780 3167.94 L783 3167.54 L786 3167.16 L789 3166.8 L792 3166.45 L795 3166.14 L798 3165.84 L801 3165.57 L804 3165.33 L807 3165.11 L810 3164.92 L813 3164.77 L816 3164.64 L819 3164.55 L822 3164.49 L825 3164.46 L828 3164.47 L831 3164.52 L834 3164.61 L837 3164.74 L840 3164.92 L843 3165.15 L846 3165.44 L849 3165.77 L852 3166.13 L855 3166.5 L858 3166.88 L861 3167.24 L864 3167.57 L867 3167.86 L870 3168.09 L873 3168.26 L876 3168.37 L879 3168.42 L882 3168.4 L885 3168.33 L888 3168.19 L891 3167.99 L894 3167.73 L897 3167.43 L900 3167.09 L903 3166.72 L906 3166.33 L909 3165.93 L912 3165.53 L915 3165.13 L918 3164.74 L921 3164.37 L924 3164.01 L927 3163.66 L930 3163.32 L933 3163 L936 3162.68 L939 3162.38 L942 3162.08 L945 3161.79 L948 3161.5 L951 3161.22 L954 3160.95 L957 3160.68 L960 3160.42 L963 3160.16 L966 3159.9 L969 3159.64 L972 3159.39 L975 3159.13 L978 3158.88 L981 3158.62 L984 3158.36 L987 3158.1 L990 3157.85 L993 3157.59 L996 3157.33 L999 3157.08 L1002 3156.84 L1005 3156.59 L1008 3156.36 L1011 3156.13 L1014 3155.91 L1017 3155.7 L1020 3155.51 L1023 3155.32 L1026 3155.15 L1029 3154.98 L1032 3154.84 L1035 3154.71 L1038 3154.6 L1041 3154.5 L1044 3154.45 L1047 3154.51 L1050 3154.59 L1053 3154.68 L1056 3154.8 L1059 3154.93 L1062 3155.08 L1065 3155.24 L1068 3155.42 L1071 3155.61 L1074 3155.82 L1077 3156.04 L1080 3156.27 L1083 3156.51 L1086 3156.76 L1089 3157.02 L1092 3157.29 L1095 3157.57 L1098 3157.85 L1101 3158.15 L1104 3158.45 L1107 3158.75 L1110 3159.06 L1113 3159.38 L1116 3159.69 L1119 3160.01 L1122 3160.34 L1125 3160.66 L1128 3160.99 L1131 3161.31 L1134 3161.64 L1137 3161.96 L1140 3162.28 L1143 3162.6 L1146 3162.91 L1149 3163.23 L1152 3163.53 L1155 3163.83 L1158 3164.13 L1161 3164.42 L1164 3164.7 L1167 3164.97 L1170 3165.23 L1173 3165.49 L1176 3165.73 L1179 3165.96 L1182 3166.19 L1185 3166.4 L1188 3166.59 L1191 3166.78 L1194 3166.94 L1197 3167.09 L1200 3167.21 L1203 3167.32 L1206 3167.41 L1209 3167.49 L1212 3167.53 L1215 3167.56 L1218 3167.55 L1221 3167.51 L1224 3167.44 L1227 3167.34 L1230 3167.2 L1233 3167.02 L1236 3166.79 L1239 3166.52 L1242 3166.21 L1245 3165.84 L1248 3165.45 L1251 3165.05 L1254 3164.68 L1257 3164.36 L1260 3164.12 L1263 3163.98 L1266 3163.96 L1269 3164.04 L1272 3164.2 L1275 3164.44 L1278 3164.74 L1281 3165.08 L1284 3165.44 L1287 3165.81 L1290 3166.19 L1293 3166.58 L1296 3166.97 L1299 3167.37 L1302 3167.77 L1305 3168.18 L1308 3168.6 L1311 3169.02 L1314 3169.45 L1317 3169.88 L1320 3170.32 L1323 3170.76 L1326 3171.21 L1329 3171.66 L1332 3172.12 L1335 3172.58 L1338 3173.05 L1341 3173.52 L1344 3174 L1347 3174.48 L1350 3174.96 L1353 3175.45 L1356 3175.95 L1359 3176.45 L1362 3176.95 L1365 3177.45 L1368 3177.97 L1371 3178.48 L1374 3179 L1377 3179.52 L1380 3180.05 L1383 3180.58 L1386 3181.12 L1389 3181.67 L1392 3182.22 L1395 3182.78 L1398 3183.34 L1401 3183.9 L1404 3184.47 L1407 3185.04 L1410 3185.61 L1413 3186.19 L1416 3186.77 L1419 3187.36 L1422 3187.95 L1425 3188.55 L1428 3189.15 L1431 3189.75 L1434 3190.36 L1437 3190.98 L1440 3191.59 L1443 3192.22 L1446 3192.84 L1449 3193.48 L1452 3194.12 L1455 3194.78 L1458 3195.46 L1461 3196.17 L1464 3196.91 L1467 3197.7 L1470 3198.53 L1473 3199.42 L1476 3200.37 L1479 3201.39 L1482 3202.48 L1485 3203.65 L1488 3204.9 L1491 3206.25 L1494 3207.7 L1497 3209.27 L1500 3210.98 L1503 3212.79 L1506 3214.72 L1509 3216.74 L1512 3218.85 L1515 3221.03 L1518 3223.27 L1521 3225.57 L1524 3227.91 L1527 3230.28 L1530 3232.67 L1533 3235.07 L1536 3237.46 L1539 3239.85 L1542 3242.21 L1545 3244.54 L1548 3246.84 L1551 3249.1 L1554 3251.34 L1557 3253.56 L1560 3255.77 L1563 3257.96 L1566 3260.14 L1569 3262.33 L1572 3264.53 L1575 3266.75 L1578 3268.99 L1581 3271.23 L1584 3273.5 L1587 3275.78 L1590 3278.1 L1593 3280.44 L1596 3282.81 L1599 3285.23 L1602 3287.69 L1605 3290.19 L1608 3292.74 L1611 3295.35 L1614 3298.02 L1617 3300.76 L1620 3303.56 L1623 3306.43 L1626 3309.39 L1629 3312.38 L1632 3315.44 L1635 3318.59 L1638 3321.83 L1641 3325.18 L1644 3328.62 L1647 3332.16 L1650 3335.8 L1653 3339.52 L1656 3343.33 L1659 3347.22 L1662 3351.19 L1665 3355.19 L1668 3359.01 L1671 3362.93 L1674 3366.92 L1677 3370.99 L1680 3375.14 L1683 3379.36 L1686 3383.65 L1689 3388 L1692 3392.42 L1695 3396.89 L1698 3401.42 L1701 3406 L1704 3410.62 L1707 3415.25 L1710 3419.9 L1713 3424.54 L1716 3429.16 L1719 3433.74 L1722 3438.28 L1725 3442.76 L1728 3447.17 L1731 3451.49 L1734 3455.71 L1737 3459.81 L1740 3463.78 L1743 3467.64 L1746 3471.34 L1749 3474.86 L1752 3478.18 L1755 3481.3 L1758 3484.21 L1761 3486.94 L1764 3489.51 L1767 3491.93 L1770 3494.22 L1773 3496.41 L1776 3498.5 L1779 3500.54 L1782 3502.52 L1785 3504.48 L1788 3506.43 L1791 3508.39 L1794 3510.38 L1797 3512.43 L1798.9 3513.77" fill="none" stroke="#330033" stroke-width="5.8" stroke-dasharray="11 8.6"/>
<clipPath id="b2"><path d="M384.8 3138 L573 2762 L761.1 2727 L948.6 2692 L1137 2848 L1325.5 2746 L1513.4 2783 L1702.1 3143 L1702.1 3255 L1513.4 3013 L1325.5 2986 L1137 3059 L948.6 2953 L761.1 2973 L573 2999 L384.8 3255 Z"/></clipPath>
<path clip-path="url(#b2)" d="M379.8 2673.21 H1707.1 M379.8 2684.38 H1707.1 M379.8 2695.55 H1707.1 M379.8 2706.72 H1707.1 M379.8 2717.89 H1707.1 M379.8 2729.06 H1707.1 M379.8 2740.23 H1707.1 M379.8 2751.4 H1707.1 M379.8 2762.57 H1707.1 M379.8 2773.74 H1707.1 M379.8 2784.91 H1707.1 M379.8 2796.08 H1707.1 M379.8 2807.25 H1707.1 M379.8 2818.42 H1707.1 M379.8 2829.59 H1707.1 M379.8 2840.76 H1707.1 M379.8 2851.93 H1707.1 M379.8 2863.1 H1707.1 M379.8 2874.27 H1707.1 M379.8 2885.44 H1707.1 M379.8 2896.61 H1707.1 M379.8 2907.78 H1707.1 M379.8 2918.95 H1707.1 M379.8 2930.12 H1707.1 M379.8 2941.29 H1707.1 M379.8 2952.46 H1707.1 M379.8 2963.63 H1707.1 M379.8 2974.8 H1707.1 M379.8 2985.97 H1707.1 M379.8 2997.14 H1707.1 M379.8 3008.31 H1707.1 M379.8 3019.48 H1707.1 M379.8 3030.65 H1707.1 M379.8 3041.82 H1707.1 M379.8 3052.99 H1707.1 M379.8 3064.16 H1707.1 M379.8 3075.33 H1707.1 M379.8 3086.5 H1707.1 M379.8 3097.67 H1707.1 M379.8 3108.84 H1707.1 M379.8 3120.01 H1707.1 M379.8 3131.18 H1707.1 M379.8 3142.35 H1707.1 M379.8 3153.52 H1707.1 M379.8 3164.69 H1707.1 M379.8 3175.86 H1707.1 M379.8 3187.03 H1707.1 M379.8 3198.2 H1707.1 M379.8 3209.37 H1707.1 M379.8 3220.54 H1707.1 M379.8 3231.71 H1707.1 M379.8 3242.88 H1707.1 M379.8 3254.05 H1707.1 M379.8 3265.22 H1707.1 M379.8 3276.39 H1707.1" stroke="#6666cc" stroke-width="3.2" fill="none"/>
</g>
<path d="M384.8 3168.2 V3225.1 M573 2840 V2919.1 M761.1 2805.2 V2885.6 M948.6 2784.5 V2861.3 M1137 2916.1 V2990.8 M1325.5 2825 V2903.3 M1513.4 2857.8 V2935.3 M1702.1 3171.4 V3231.5" stroke="#000099" stroke-width="6" fill="none"/>
<circle cx="384.8" cy="3196.7" r="12.6" fill="#000"/>
<circle cx="573" cy="2879.2" r="12.6" fill="#000"/>
<circle cx="761.1" cy="2845.7" r="12.6" fill="#000"/>
<circle cx="948.6" cy="2823.6" r="12.6" fill="#000"/>
<circle cx="1137" cy="2953.8" r="12.6" fill="#000"/>
<circle cx="1325.5" cy="2864.2" r="12.6" fill="#000"/>
<circle cx="1513.4" cy="2896.2" r="12.6" fill="#000"/>
<circle cx="1702.1" cy="3201.7" r="12.6" fill="#000"/>
<path d="M761.1 3033 V3035.1 M761.1 3063.5 V3065 M1325.5 3034 V3036.3 M1325.5 3064.7 V3066" stroke="#00ff00" stroke-width="9" fill="none"/>
<rect x="372.4" y="3423.4" width="24.8" height="24.8" fill="none" stroke="#33cc33" stroke-width="3.6"/>
<rect x="560.6" y="3231.7" width="24.8" height="24.8" fill="none" stroke="#33cc33" stroke-width="3.6"/>
<rect x="748.7" y="3036.9" width="24.8" height="24.8" fill="none" stroke="#33cc33" stroke-width="3.6"/>
<rect x="936.2" y="2866" width="24.8" height="24.8" fill="none" stroke="#33cc33" stroke-width="3.6"/>
<rect x="1124.6" y="2912.3" width="24.8" height="24.8" fill="none" stroke="#33cc33" stroke-width="3.6"/>
<rect x="1313.1" y="3038.1" width="24.8" height="24.8" fill="none" stroke="#33cc33" stroke-width="3.6"/>
<rect x="1501" y="3239.9" width="24.8" height="24.8" fill="none" stroke="#33cc33" stroke-width="3.6"/>
<rect x="1689.7" y="3416.4" width="24.8" height="24.8" fill="none" stroke="#33cc33" stroke-width="3.6"/>
<path d="M290.65 3514.5 V3469.5 M290.65 2003 V2048 M667.05 3514.5 V3469.5 M667.05 2003 V2048 M1043.45 3514.5 V3469.5 M1043.45 2003 V2048 M1419.85 3514.5 V3469.5 M1419.85 2003 V2048 M1796.25 3514.5 V3469.5 M1796.25 2003 V2048 M365.93 3514.5 V3492 M365.93 2003 V2025.5 M441.21 3514.5 V3492 M441.21 2003 V2025.5 M516.49 3514.5 V3492 M516.49 2003 V2025.5 M591.77 3514.5 V3492 M591.77 2003 V2025.5 M742.33 3514.5 V3492 M742.33 2003 V2025.5 M817.61 3514.5 V3492 M817.61 2003 V2025.5 M892.89 3514.5 V3492 M892.89 2003 V2025.5 M968.17 3514.5 V3492 M968.17 2003 V2025.5 M1118.73 3514.5 V3492 M1118.73 2003 V2025.5 M1194.01 3514.5 V3492 M1194.01 2003 V2025.5 M1269.29 3514.5 V3492 M1269.29 2003 V2025.5 M1344.57 3514.5 V3492 M1344.57 2003 V2025.5 M1495.13 3514.5 V3492 M1495.13 2003 V2025.5 M1570.41 3514.5 V3492 M1570.41 2003 V2025.5 M1645.69 3514.5 V3492 M1645.69 2003 V2025.5 M1720.97 3514.5 V3492 M1720.97 2003 V2025.5 M288 3514.5 H333 M1799 3514.5 H1754 M288 3346.62 H333 M1799 3346.62 H1754 M288 3178.74 H333 M1799 3178.74 H1754 M288 3010.86 H333 M1799 3010.86 H1754 M288 2842.98 H333 M1799 2842.98 H1754 M288 2675.1 H333 M1799 2675.1 H1754 M288 2507.22 H333 M1799 2507.22 H1754 M288 2339.34 H333 M1799 2339.34 H1754 M288 2171.46 H333 M1799 2171.46 H1754 M288 2003.58 H333 M1799 2003.58 H1754 M288 3472.53 H310.5 M1799 3472.53 H1776.5 M288 3430.56 H310.5 M1799 3430.56 H1776.5 M288 3388.59 H310.5 M1799 3388.59 H1776.5 M288 3304.65 H310.5 M1799 3304.65 H1776.5 M288 3262.68 H310.5 M1799 3262.68 H1776.5 M288 3220.71 H310.5 M1799 3220.71 H1776.5 M288 3136.77 H310.5 M1799 3136.77 H1776.5 M288 3094.8 H310.5 M1799 3094.8 H1776.5 M288 3052.83 H310.5 M1799 3052.83 H1776.5 M288 2968.89 H310.5 M1799 2968.89 H1776.5 M288 2926.92 H310.5 M1799 2926.92 H1776.5 M288 2884.95 H310.5 M1799 2884.95 H1776.5 M288 2801.01 H310.5 M1799 2801.01 H1776.5 M288 2759.04 H310.5 M1799 2759.04 H1776.5 M288 2717.07 H310.5 M1799 2717.07 H1776.5 M288 2633.13 H310.5 M1799 2633.13 H1776.5 M288 2591.16 H310.5 M1799 2591.16 H1776.5 M288 2549.19 H310.5 M1799 2549.19 H1776.5 M288 2465.25 H310.5 M1799 2465.25 H1776.5 M288 2423.28 H310.5 M1799 2423.28 H1776.5 M288 2381.31 H310.5 M1799 2381.31 H1776.5 M288 2297.37 H310.5 M1799 2297.37 H1776.5 M288 2255.4 H310.5 M1799 2255.4 H1776.5 M288 2213.43 H310.5 M1799 2213.43 H1776.5 M288 2129.49 H310.5 M1799 2129.49 H1776.5 M288 2087.52 H310.5 M1799 2087.52 H1776.5 M288 2045.55 H310.5 M1799 2045.55 H1776.5" stroke="#000" stroke-width="3.2" fill="none"/>
<rect x="288" y="2003" width="1511" height="1511.5" stroke="#000" stroke-width="3.6" fill="none"/>
<text x="245.55" y="3534.5" style="font-family:'Liberation Sans', Arial, Helvetica, sans-serif;font-size:58.5px;font-weight:400" fill="#000">0</text>
<text x="246.21" y="3366.62" style="font-family:'Liberation Sans', Arial, Helvetica, sans-serif;font-size:58.5px;font-weight:400" fill="#000">2</text>
<text x="244.98" y="3198.74" style="font-family:'Liberation Sans', Arial, Helvetica, sans-serif;font-size:58.5px;font-weight:400" fill="#000">4</text>
<text x="245.84" y="3030.86" style="font-family:'Liberation Sans', Arial, Helvetica, sans-serif;font-size:58.5px;font-weight:400" fill="#000">6</text>
<text x="245.81" y="2862.98" style="font-family:'Liberation Sans', Arial, Helvetica, sans-serif;font-size:58.5px;font-weight:400" fill="#000">8</text>
<text x="213.02" y="2695.1" style="font-family:'Liberation Sans', Arial, Helvetica, sans-serif;font-size:58.5px;font-weight:400" fill="#000">10</text>
<text x="213.67" y="2527.22" style="font-family:'Liberation Sans', Arial, Helvetica, sans-serif;font-size:58.5px;font-weight:400" fill="#000">12</text>
<text x="212.44" y="2359.34" style="font-family:'Liberation Sans', Arial, Helvetica, sans-serif;font-size:58.5px;font-weight:400" fill="#000">14</text>
<text x="213.3" y="2191.46" style="font-family:'Liberation Sans', Arial, Helvetica, sans-serif;font-size:58.5px;font-weight:400" fill="#000">16</text>
<text x="213.27" y="2023.58" style="font-family:'Liberation Sans', Arial, Helvetica, sans-serif;font-size:58.5px;font-weight:400" fill="#000">18</text>
<text x="264.64" y="3574" style="font-family:'Liberation Sans', Arial, Helvetica, sans-serif;font-size:58.5px;font-weight:400" fill="#000">-2</text>
<text x="641.04" y="3574" style="font-family:'Liberation Sans', Arial, Helvetica, sans-serif;font-size:58.5px;font-weight:400" fill="#000">-1</text>
<text x="1027.18" y="3574" style="font-family:'Liberation Sans', Arial, Helvetica, sans-serif;font-size:58.5px;font-weight:400" fill="#000">0</text>
<text x="1403.58" y="3574" style="font-family:'Liberation Sans', Arial, Helvetica, sans-serif;font-size:58.5px;font-weight:400" fill="#000">1</text>
<text x="1779.98" y="3574" style="font-family:'Liberation Sans', Arial, Helvetica, sans-serif;font-size:58.5px;font-weight:400" fill="#000">2</text>
<text transform="translate(561.9 1960.2) scale(1 1.03)" style="font-family:'Liberation Sans', Arial, Helvetica, sans-serif;font-size:59px;font-weight:400" fill="#000">CMS</text>
<text transform="translate(708.2 1960.2) scale(1 1.03)" style="font-family:'Liberation Sans', Arial, Helvetica, sans-serif;font-size:59px;font-weight:400" fill="#000">pp</text>
<text transform="translate(789.13 1960.2) scale(1 1.03)" style="font-family:'Liberation Sans', Arial, Helvetica, sans-serif;font-size:59px;font-weight:400" fill="#000">at</text>
<path d="M867.9 1925.6 L873.8 1925.6 L875 1933.2 L879 1906.4 L882.9 1902.4 L918.1 1902.4 L918.1 1912.3 L888.1 1912.5 L882.1 1964.1 L873 1964.1 Z" fill="#000"/>
<text transform="translate(890.36 1960.2) scale(1 1.03)" style="font-family:'Liberation Sans', Arial, Helvetica, sans-serif;font-size:59px;font-weight:400" fill="#000">s</text>
<text transform="translate(932.52 1961.63) scale(1 0.83)" style="font-family:'Liberation Sans', Arial, Helvetica, sans-serif;font-size:59px;font-weight:400" fill="#000">=</text>
<text transform="translate(984.08 1960.2) scale(1 1.03)" style="font-family:'Liberation Sans', Arial, Helvetica, sans-serif;font-size:59px;font-weight:400" fill="#000">7</text>
<text transform="translate(1033.67 1960.2) scale(1 1.03)" style="font-family:'Liberation Sans', Arial, Helvetica, sans-serif;font-size:59px;font-weight:400" fill="#000">TeV,</text>
<text transform="translate(1173.66 1960.2) scale(1 1.03)" style="font-family:'Liberation Sans', Arial, Helvetica, sans-serif;font-size:59px;font-weight:400" fill="#000">L</text>
<text transform="translate(1204.69 1987.1) scale(1 1.02)" style="font-family:'Liberation Sans', Arial, Helvetica, sans-serif;font-size:39px;font-weight:400" fill="#000">int</text>
<text transform="translate(1264.22 1961.63) scale(1 0.83)" style="font-family:'Liberation Sans', Arial, Helvetica, sans-serif;font-size:59px;font-weight:400" fill="#000">=</text>
<text transform="translate(1314.65 1960.2) scale(1 1.03)" style="font-family:'Liberation Sans', Arial, Helvetica, sans-serif;font-size:59px;font-weight:400" fill="#000">450</text>
<text transform="translate(1431.22 1960.2) scale(1 1.03)" style="font-family:'Liberation Sans', Arial, Helvetica, sans-serif;font-size:59px;font-weight:400" fill="#000">μ</text>
<text transform="translate(1464.66 1960.2) scale(1 1.03)" style="font-family:'Liberation Sans', Arial, Helvetica, sans-serif;font-size:59px;font-weight:400" fill="#000">b</text>
<text x="1499.2" y="1932.2" style="font-family:'Liberation Sans', Arial, Helvetica, sans-serif;font-size:40.4px;font-weight:400" fill="#000">-</text>
<text x="1505.6" y="1932.2" style="font-family:'Liberation Sans', Arial, Helvetica, sans-serif;font-size:40.4px;font-weight:400" fill="#000">1</text>
<text x="341.21" y="2099.3" style="font-family:'Liberation Sans', Arial, Helvetica, sans-serif;font-size:68.1px;font-weight:400" fill="#000">p</text>
<text x="380.16" y="2133.2" style="font-family:'Liberation Sans', Arial, Helvetica, sans-serif;font-size:46.5px;font-weight:400" fill="#000">T</text>
<text transform="translate(425.24 2103.31) scale(1 0.96)" style="font-family:'Liberation Sans', Arial, Helvetica, sans-serif;font-size:68.1px;font-weight:400" fill="#000">&gt;</text>
<text x="485.24" y="2099.3" style="font-family:'Liberation Sans', Arial, Helvetica, sans-serif;font-size:68.1px;font-weight:400" fill="#000">0.2 GeV/c, |y|</text>
<text transform="translate(913.64 2103.31) scale(1 0.96)" style="font-family:'Liberation Sans', Arial, Helvetica, sans-serif;font-size:68.1px;font-weight:400" fill="#000">&lt;</text>
<text x="972.25" y="2099.3" style="font-family:'Liberation Sans', Arial, Helvetica, sans-serif;font-size:68.1px;font-weight:400" fill="#000">2</text>
<text x="1627.84" y="2114.6" style="font-family:'Liberation Sans', Arial, Helvetica, sans-serif;font-size:81.5px;font-weight:400" fill="#000">c)</text>
<text transform="translate(825.4 2188.4) scale(1 1.05)" style="font-family:'Liberation Sans', Arial, Helvetica, sans-serif;font-size:67.7px;font-weight:700" fill="#000">Data</text>
<text transform="translate(825.4 2263.2) scale(1 1.05)" style="font-family:'Liberation Sans', Arial, Helvetica, sans-serif;font-size:67.7px;font-weight:700" fill="#000">PYTHIA 8 MBR DPE</text>
<text transform="translate(825.4 2337.4) scale(1 1.05)" style="font-family:'Liberation Sans', Arial, Helvetica, sans-serif;font-size:67.7px;font-weight:700" fill="#000">STARlight (</text>
<text transform="translate(1195.42 2337.4) scale(1 1.05)" style="font-family:'Liberation Serif', 'Times New Roman', serif;font-size:62.28px;font-weight:400" fill="#000">ρ</text>
<text transform="translate(1228.5 2337.4) scale(1 1.05)" style="font-family:'Liberation Sans', Arial, Helvetica, sans-serif;font-size:67.7px;font-weight:700" fill="#000">)</text>
<text transform="translate(825.4 2411.3) scale(1 1.05)" style="font-family:'Liberation Sans', Arial, Helvetica, sans-serif;font-size:67.7px;font-weight:700" fill="#000">Dime (Orear) + STARLight (</text>
<text transform="translate(1705.21 2411.3) scale(1 1.05)" style="font-family:'Liberation Serif', 'Times New Roman', serif;font-size:62.28px;font-weight:400" fill="#000">ρ</text>
<text transform="translate(1738.3 2411.3) scale(1 1.05)" style="font-family:'Liberation Sans', Arial, Helvetica, sans-serif;font-size:67.7px;font-weight:700" fill="#000">)</text>
<text transform="translate(825.4 2488.2) scale(1 1.05)" style="font-family:'Liberation Sans', Arial, Helvetica, sans-serif;font-size:67.7px;font-weight:700" fill="#000">Dime (Exp) + STARLight (</text>
<text transform="translate(1648.72 2488.2) scale(1 1.05)" style="font-family:'Liberation Serif', 'Times New Roman', serif;font-size:62.28px;font-weight:400" fill="#000">ρ</text>
<text transform="translate(1681.8 2488.2) scale(1 1.05)" style="font-family:'Liberation Sans', Arial, Helvetica, sans-serif;font-size:67.7px;font-weight:700" fill="#000">)</text>
<text transform="translate(825.4 2562) scale(1 1.05)" style="font-family:'Liberation Sans', Arial, Helvetica, sans-serif;font-size:67.7px;font-weight:700" fill="#000">Systematic unc.</text>
<path d="M742 2151.2 V2197.5" stroke="#000099" stroke-width="6"/>
<circle cx="741.6" cy="2174.5" r="13.2" fill="#000"/>
<path d="M741.4 2225.1 V2271.2" stroke="#00ff00" stroke-width="9.3"/>
<rect x="729.9" y="2236.3" width="24.4" height="24.4" fill="none" stroke="#33cc33" stroke-width="3.2"/>
<rect x="682" y="2297.5" width="119.5" height="51.7" fill="#666633"/>
<path d="M682 2297.5 H801.5" stroke="#000" stroke-width="6" stroke-dasharray="17 16" fill="none"/>
<path d="M682 2349.2 H801.5" stroke="#000" stroke-width="6" stroke-dasharray="17 16" fill="none"/>
<path d="M682 2299.7 V2350.5" stroke="#000" stroke-width="6" stroke-dasharray="17 16" fill="none"/>
<path d="M801 2299.7 V2350.5" stroke="#000" stroke-width="6" stroke-dasharray="17 16" fill="none"/>
<path d="M681.9 2397.5 H801.9" stroke="#330033" stroke-width="6" stroke-dasharray="10.2 9.5" fill="none"/>
<rect x="682" y="2446" width="119" height="52.5" fill="#cccb99" stroke="#ff0000" stroke-width="6"/>
<path d="M681.8 2528.15 H801.5 M681.8 2539.31 H801.5 M681.8 2550.47 H801.5 M681.8 2561.63 H801.5" stroke="#6666cc" stroke-width="3" fill="none"/>
<rect x="681.8" y="2520.5" width="119.7" height="52.1" fill="none" stroke="#6666cc" stroke-width="3.2"/>
<text x="1605.08" y="3676" style="font-family:'Liberation Sans', Arial, Helvetica, sans-serif;font-size:92px;font-weight:400" fill="#000">y(</text>
<text x="1682.71" y="3676" style="font-family:'Liberation Serif', 'Times New Roman', serif;font-size:92px;font-weight:400" fill="#000">ππ</text>
<text x="1772.37" y="3676" style="font-family:'Liberation Sans', Arial, Helvetica, sans-serif;font-size:92px;font-weight:400" fill="#000">)</text>
<g transform="translate(110.3 2393.3) rotate(-90)">
<text x="-3.77" y="0" style="font-family:'Liberation Sans', Arial, Helvetica, sans-serif;font-size:89.8px;font-weight:400" fill="#000">dσ/dy [μb]</text>
</g>
</svg>
</body></html>
